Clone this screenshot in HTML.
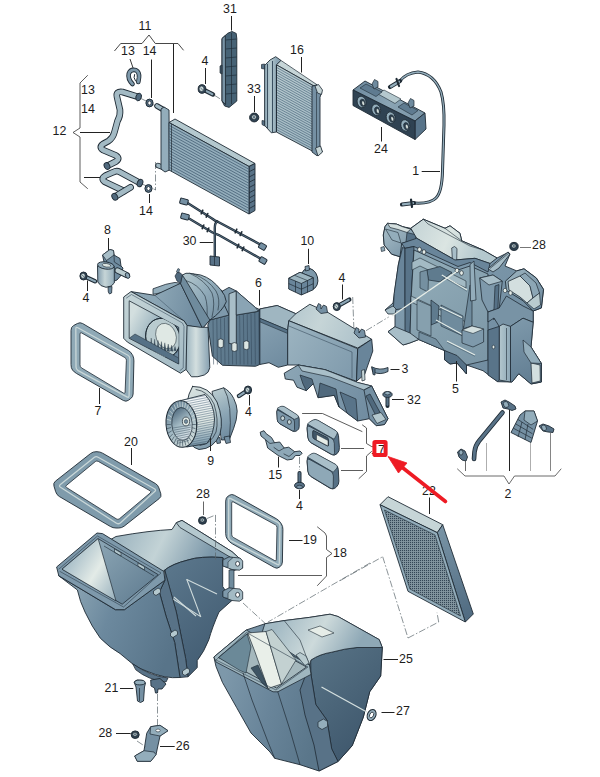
<!DOCTYPE html>
<html><head><meta charset="utf-8"><title>diagram</title>
<style>
html,body{margin:0;padding:0;background:#fff;}
body{width:600px;height:777px;overflow:hidden;}
svg{display:block;opacity:0.999;}
svg text{font-family:"Liberation Sans",sans-serif;fill:#1c1c1c;}
</style></head><body>
<svg width="600" height="777" viewBox="0 0 600 777">
<rect width="600" height="777" fill="#fff"/>
<text x="145.0" y="29.5" text-anchor="middle" font-size="12.4">11</text>
<polyline points="114.7,50.7 120.7,43.5 142.0,43.5 149.0,35.0 155.3,43.5 178.0,43.5 183.3,50.0" fill="none" stroke="#333" stroke-width="0.9" stroke-linejoin="round" stroke-linecap="round" />
<line x1="173.5" y1="44.0" x2="173.5" y2="113.0" stroke="#222" stroke-width="1.0" />
<text x="128.0" y="55.1" text-anchor="middle" font-size="12.4">13</text>
<text x="149.6" y="55.1" text-anchor="middle" font-size="12.4">14</text>
<line x1="130.0" y1="59.0" x2="133.3" y2="68.7" stroke="#222" stroke-width="0.9" />
<line x1="151.5" y1="59.5" x2="151.5" y2="98.0" stroke="#222" stroke-width="1.0" />
<text x="88.0" y="94.0" text-anchor="middle" font-size="12.4">13</text>
<text x="88.0" y="113.0" text-anchor="middle" font-size="12.4">14</text>
<text x="59.5" y="135.0" text-anchor="middle" font-size="12.4">12</text>
<polyline points="87.5,75.5 80.0,83.0 80.0,128.0 73.0,132.5 80.0,137.0 80.0,182.0 87.5,188.5" fill="none" stroke="#333" stroke-width="0.8" stroke-linejoin="round" stroke-linecap="round" />
<line x1="80.0" y1="132.5" x2="110.0" y2="132.5" stroke="#222" stroke-width="1.0" />
<line x1="84.0" y1="177.5" x2="101.0" y2="177.5" stroke="#222" stroke-width="1.0" />
<text x="146.0" y="215.0" text-anchor="middle" font-size="12.4">14</text>
<line x1="149.5" y1="194.0" x2="149.5" y2="203.0" stroke="#222" stroke-width="1.0" />
<line x1="155.5" y1="162.0" x2="155.5" y2="190.0" stroke="#5a656b" stroke-width="0.7" stroke-dasharray="7 2 1.5 2"/>
<line x1="140.0" y1="98.0" x2="160.0" y2="108.0" stroke="#5a656b" stroke-width="0.7" stroke-dasharray="7 2 1.5 2"/>
<line x1="142.0" y1="184.0" x2="156.0" y2="190.0" stroke="#5a656b" stroke-width="0.7" stroke-dasharray="7 2 1.5 2"/>
<path d="M132.5,84 Q127.5,79 128.8,73.5 Q130.5,68.8 136,70.2 Q139.5,72 139,77.5 L138.3,82" fill="none" stroke="#1f2b35" stroke-width="4.6" stroke-linejoin="round" stroke-linecap="round" />
<path d="M132.5,84 Q127.5,79 128.8,73.5 Q130.5,68.8 136,70.2 Q139.5,72 139,77.5 L138.3,82" fill="none" stroke="#7e99ab" stroke-width="2.8" stroke-linejoin="round" stroke-linecap="round" />
<path d="M135.5,81 Q133,77.5 134.5,74.5" fill="none" stroke="#1f2b35" stroke-width="1.0" stroke-linejoin="round" stroke-linecap="round" />
<path d="M138,96.8 L122.5,92 Q115.5,91 117,97 L120,110 Q120.5,116 117.5,121 L114.5,132 Q113,138 108.5,141 L103,144 Q98.5,147 103,150 L116,155.5 Q120.5,158.5 116,161.5 L107.5,165.8" fill="none" stroke="#1f2b35" stroke-width="6.6" stroke-linejoin="round" stroke-linecap="round" />
<path d="M138,96.8 L122.5,92 Q115.5,91 117,97 L120,110 Q120.5,116 117.5,121 L114.5,132 Q113,138 108.5,141 L103,144 Q98.5,147 103,150 L116,155.5 Q120.5,158.5 116,161.5 L107.5,165.8" fill="none" stroke="#a3bac4" stroke-width="4.8" stroke-linejoin="round" stroke-linecap="round" />
<ellipse cx="138.6" cy="97.0" rx="2.7" ry="3.9" fill="#50697d" stroke="#1f2b35" stroke-width="0.9" transform="rotate(18 138.6 97.0)"/>
<ellipse cx="107.0" cy="166.0" rx="2.7" ry="3.5" fill="#50697d" stroke="#1f2b35" stroke-width="0.9" transform="rotate(-30 107.0 166.0)"/>
<path d="M139.3,182.7 L119.5,171.8 Q116.5,170.3 113,172.3 L105.5,175.6 Q100.5,178.5 104.5,181.7 L124,191" fill="none" stroke="#1f2b35" stroke-width="6.6" stroke-linejoin="round" stroke-linecap="round" />
<path d="M139.3,182.7 L119.5,171.8 Q116.5,170.3 113,172.3 L105.5,175.6 Q100.5,178.5 104.5,181.7 L124,191" fill="none" stroke="#a3bac4" stroke-width="4.8" stroke-linejoin="round" stroke-linecap="round" />
<path d="M130.5,187.3 L115.5,196.3" fill="none" stroke="#1f2b35" stroke-width="6.8" stroke-linejoin="round" stroke-linecap="round" />
<path d="M130.5,187.3 L115.5,196.3" fill="none" stroke="#a3bac4" stroke-width="5.0" stroke-linejoin="round" stroke-linecap="round" />
<ellipse cx="140.0" cy="183.0" rx="2.7" ry="3.9" fill="#50697d" stroke="#1f2b35" stroke-width="0.9" transform="rotate(22 140.0 183.0)"/>
<ellipse cx="114.8" cy="196.8" rx="2.7" ry="3.6" fill="#50697d" stroke="#1f2b35" stroke-width="0.9" transform="rotate(-30 114.8 196.8)"/>
<ellipse cx="149.5" cy="103.0" rx="3.6" ry="3.9" fill="#587287" stroke="#1f2b35" stroke-width="1.0" transform="rotate(0 149.5 103.0)"/>
<ellipse cx="149.5" cy="103.0" rx="1.7" ry="2.0" fill="#fff" stroke="#1f2b35" stroke-width="0.8" transform="rotate(0 149.5 103.0)"/>
<ellipse cx="148.5" cy="188.5" rx="3.6" ry="3.9" fill="#587287" stroke="#1f2b35" stroke-width="1.0" transform="rotate(0 148.5 188.5)"/>
<ellipse cx="148.5" cy="188.5" rx="1.7" ry="2.0" fill="#fff" stroke="#1f2b35" stroke-width="0.8" transform="rotate(0 148.5 188.5)"/>
<path d="M157,106 L163,109.5" fill="none" stroke="#1f2b35" stroke-width="5.5" stroke-linejoin="round" stroke-linecap="round" />
<path d="M157,106 L163,109.5" fill="none" stroke="#a3bac4" stroke-width="3.7" stroke-linejoin="round" stroke-linecap="round" />
<path d="M158,165.5 L163,167.5" fill="none" stroke="#1f2b35" stroke-width="5.5" stroke-linejoin="round" stroke-linecap="round" />
<path d="M158,165.5 L163,167.5" fill="none" stroke="#a3bac4" stroke-width="3.7" stroke-linejoin="round" stroke-linecap="round" />
<polygon points="161.0,109.0 164.0,107.0 169.0,110.0 169.5,170.0 165.0,172.0 161.0,169.0" fill="#93adbb" stroke="#1f2b35" stroke-width="0.9" stroke-linejoin="round" />
<polygon points="169.0,122.5 175.0,119.0 255.0,163.5 249.0,166.5" fill="#b4c8ce" stroke="#1f2b35" stroke-width="0.9" stroke-linejoin="round" />
<polygon points="249.0,166.5 255.0,163.5 255.0,210.5 249.0,214.0" fill="#587287" stroke="#1f2b35" stroke-width="0.9" stroke-linejoin="round" />
<polygon points="169.0,122.5 249.0,166.5 249.0,214.0 169.0,170.0" fill="#93adbb" stroke="#1f2b35" stroke-width="0.9" stroke-linejoin="round" />
<line x1="169.0" y1="125.3" x2="249.0" y2="169.3" stroke="#4a647a" stroke-width="0.85" />
<line x1="169.0" y1="128.1" x2="249.0" y2="172.1" stroke="#4a647a" stroke-width="0.85" />
<line x1="169.0" y1="130.9" x2="249.0" y2="174.9" stroke="#4a647a" stroke-width="0.85" />
<line x1="169.0" y1="133.7" x2="249.0" y2="177.7" stroke="#4a647a" stroke-width="0.85" />
<line x1="169.0" y1="136.5" x2="249.0" y2="180.5" stroke="#4a647a" stroke-width="0.85" />
<line x1="169.0" y1="139.3" x2="249.0" y2="183.3" stroke="#4a647a" stroke-width="0.85" />
<line x1="169.0" y1="142.1" x2="249.0" y2="186.1" stroke="#4a647a" stroke-width="0.85" />
<line x1="169.0" y1="144.9" x2="249.0" y2="188.9" stroke="#4a647a" stroke-width="0.85" />
<line x1="169.0" y1="147.6" x2="249.0" y2="191.6" stroke="#4a647a" stroke-width="0.85" />
<line x1="169.0" y1="150.4" x2="249.0" y2="194.4" stroke="#4a647a" stroke-width="0.85" />
<line x1="169.0" y1="153.2" x2="249.0" y2="197.2" stroke="#4a647a" stroke-width="0.85" />
<line x1="169.0" y1="156.0" x2="249.0" y2="200.0" stroke="#4a647a" stroke-width="0.85" />
<line x1="169.0" y1="158.8" x2="249.0" y2="202.8" stroke="#4a647a" stroke-width="0.85" />
<line x1="169.0" y1="161.6" x2="249.0" y2="205.6" stroke="#4a647a" stroke-width="0.85" />
<line x1="169.0" y1="164.4" x2="249.0" y2="208.4" stroke="#4a647a" stroke-width="0.85" />
<line x1="169.0" y1="167.2" x2="249.0" y2="211.2" stroke="#4a647a" stroke-width="0.85" />
<line x1="249.0" y1="171.8" x2="255.0" y2="168.7" stroke="#1f2b35" stroke-width="0.8" />
<line x1="249.0" y1="177.1" x2="255.0" y2="173.9" stroke="#1f2b35" stroke-width="0.8" />
<line x1="249.0" y1="182.3" x2="255.0" y2="179.2" stroke="#1f2b35" stroke-width="0.8" />
<line x1="249.0" y1="187.6" x2="255.0" y2="184.4" stroke="#1f2b35" stroke-width="0.8" />
<line x1="249.0" y1="192.9" x2="255.0" y2="189.6" stroke="#1f2b35" stroke-width="0.8" />
<line x1="249.0" y1="198.2" x2="255.0" y2="194.8" stroke="#1f2b35" stroke-width="0.8" />
<line x1="249.0" y1="203.4" x2="255.0" y2="200.1" stroke="#1f2b35" stroke-width="0.8" />
<line x1="249.0" y1="208.7" x2="255.0" y2="205.3" stroke="#1f2b35" stroke-width="0.8" />
<line x1="171.5" y1="124.0" x2="171.5" y2="171.5" stroke="#1f2b35" stroke-width="0.7" />
<text x="230.0" y="12.5" text-anchor="middle" font-size="12.4">31</text>
<line x1="231.5" y1="16.0" x2="231.5" y2="30.5" stroke="#222" stroke-width="1.0" />
<polygon points="222.0,38.5 227.8,33.2 232.0,31.5 236.2,33.4 236.8,38.5 236.8,101.0 229.1,107.4 224.6,106.0 222.0,101.0" fill="#466275" stroke="#1f2b35" stroke-width="0.9" stroke-linejoin="round" />
<polygon points="222.0,38.5 225.3,35.5 225.6,104.5 222.0,101.0" fill="#7893a5" stroke="#1f2b35" stroke-width="0.9" stroke-linejoin="round" />
<line x1="225.6" y1="40.0" x2="236.8" y2="39.0" stroke="#1f2f3c" stroke-width="0.7" />
<line x1="225.6" y1="49.0" x2="236.8" y2="48.0" stroke="#1f2f3c" stroke-width="0.7" />
<line x1="225.6" y1="58.0" x2="236.8" y2="57.0" stroke="#1f2f3c" stroke-width="0.7" />
<line x1="225.6" y1="67.0" x2="236.8" y2="66.0" stroke="#1f2f3c" stroke-width="0.7" />
<line x1="225.6" y1="76.0" x2="236.8" y2="75.0" stroke="#1f2f3c" stroke-width="0.7" />
<line x1="225.6" y1="85.0" x2="236.8" y2="84.0" stroke="#1f2f3c" stroke-width="0.7" />
<line x1="225.6" y1="94.0" x2="236.8" y2="93.0" stroke="#1f2f3c" stroke-width="0.7" />
<line x1="231.5" y1="33.0" x2="231.5" y2="104.0" stroke="#1f2b35" stroke-width="0.7" />
<polygon points="220.0,66.0 222.0,65.0 222.0,74.0 220.0,73.0" fill="#3e5466" stroke="#1f2b35" stroke-width="0.7" stroke-linejoin="round" />
<text x="205.0" y="65.0" text-anchor="middle" font-size="12.4">4</text>
<line x1="205.5" y1="68.0" x2="205.5" y2="84.0" stroke="#222" stroke-width="1.0" />
<path d="M202,89 L213,94.5" fill="none" stroke="#1f2b35" stroke-width="4.4" stroke-linejoin="round" stroke-linecap="round" />
<path d="M202,89 L213,94.5" fill="none" stroke="#8ca6b5" stroke-width="2.2" stroke-linejoin="round" stroke-linecap="round" stroke-dasharray="1.0 1.1"/>
<ellipse cx="202.0" cy="89.0" rx="3.8" ry="4.3" fill="#334758" stroke="#1f2b35" stroke-width="1.0" transform="rotate(0 202.0 89.0)"/>
<ellipse cx="201.5" cy="88.8" rx="2.4" ry="2.7" fill="#c9d7d8" stroke="#1f2b35" stroke-width="0.6" transform="rotate(0 201.5 88.8)"/>
<line x1="200.4" y1="87.8" x2="202.9" y2="90.2" stroke="#334758" stroke-width="0.7" />
<line x1="214.0" y1="95.0" x2="222.0" y2="100.0" stroke="#5a656b" stroke-width="0.7" stroke-dasharray="7 2 1.5 2"/>
<text x="254.0" y="92.5" text-anchor="middle" font-size="12.4">33</text>
<line x1="254.5" y1="96.0" x2="254.5" y2="112.0" stroke="#222" stroke-width="1.0" />
<ellipse cx="254.2" cy="117.5" rx="4.6" ry="4.4" fill="#2f4252" stroke="#1f2b35" stroke-width="1.0" transform="rotate(0 254.2 117.5)"/>
<ellipse cx="254.0" cy="117.1" rx="2.5" ry="2.3" fill="#c9d7d8" stroke="#1f2b35" stroke-width="0.7" transform="rotate(0 254.0 117.1)"/>
<ellipse cx="254.0" cy="117.1" rx="1.0" ry="0.9" fill="#567186" stroke="#1f2b35" stroke-width="0.3" transform="rotate(0 254.0 117.1)"/>
<text x="297.0" y="53.5" text-anchor="middle" font-size="12.4">16</text>
<line x1="301.5" y1="57.0" x2="301.5" y2="72.5" stroke="#222" stroke-width="1.0" />
<polygon points="276.4,64.8 280.9,60.4 317.1,84.8 314.2,86.2" fill="#c6d5d7" stroke="#1f2b35" stroke-width="0.7" stroke-linejoin="round" />
<defs><linearGradient id="g1" gradientUnits="userSpaceOnUse" x1="277" y1="70" x2="314" y2="150"><stop offset="0" stop-color="#b9cbcf"/><stop offset="1" stop-color="#9db5c0"/></linearGradient></defs>
<polygon points="276.4,64.8 314.2,86.2 314.2,152.0 276.4,132.0" fill="url(#g1)" stroke="#1f2b35" stroke-width="0.9" stroke-linejoin="round" />
<line x1="276.4" y1="67.3" x2="314.2" y2="88.6" stroke="#4f6a80" stroke-width="0.7" />
<line x1="276.4" y1="69.8" x2="314.2" y2="91.1" stroke="#4f6a80" stroke-width="0.7" />
<line x1="276.4" y1="72.3" x2="314.2" y2="93.5" stroke="#4f6a80" stroke-width="0.7" />
<line x1="276.4" y1="74.8" x2="314.2" y2="95.9" stroke="#4f6a80" stroke-width="0.7" />
<line x1="276.4" y1="77.2" x2="314.2" y2="98.4" stroke="#4f6a80" stroke-width="0.7" />
<line x1="276.4" y1="79.7" x2="314.2" y2="100.8" stroke="#4f6a80" stroke-width="0.7" />
<line x1="276.4" y1="82.2" x2="314.2" y2="103.3" stroke="#4f6a80" stroke-width="0.7" />
<line x1="276.4" y1="84.7" x2="314.2" y2="105.7" stroke="#4f6a80" stroke-width="0.7" />
<line x1="276.4" y1="87.2" x2="314.2" y2="108.1" stroke="#4f6a80" stroke-width="0.7" />
<line x1="276.4" y1="89.7" x2="314.2" y2="110.6" stroke="#4f6a80" stroke-width="0.7" />
<line x1="276.4" y1="92.2" x2="314.2" y2="113.0" stroke="#4f6a80" stroke-width="0.7" />
<line x1="276.4" y1="94.7" x2="314.2" y2="115.4" stroke="#4f6a80" stroke-width="0.7" />
<line x1="276.4" y1="97.2" x2="314.2" y2="117.9" stroke="#4f6a80" stroke-width="0.7" />
<line x1="276.4" y1="99.6" x2="314.2" y2="120.3" stroke="#4f6a80" stroke-width="0.7" />
<line x1="276.4" y1="102.1" x2="314.2" y2="122.8" stroke="#4f6a80" stroke-width="0.7" />
<line x1="276.4" y1="104.6" x2="314.2" y2="125.2" stroke="#4f6a80" stroke-width="0.7" />
<line x1="276.4" y1="107.1" x2="314.2" y2="127.6" stroke="#4f6a80" stroke-width="0.7" />
<line x1="276.4" y1="109.6" x2="314.2" y2="130.1" stroke="#4f6a80" stroke-width="0.7" />
<line x1="276.4" y1="112.1" x2="314.2" y2="132.5" stroke="#4f6a80" stroke-width="0.7" />
<line x1="276.4" y1="114.6" x2="314.2" y2="134.9" stroke="#4f6a80" stroke-width="0.7" />
<line x1="276.4" y1="117.1" x2="314.2" y2="137.4" stroke="#4f6a80" stroke-width="0.7" />
<line x1="276.4" y1="119.6" x2="314.2" y2="139.8" stroke="#4f6a80" stroke-width="0.7" />
<line x1="276.4" y1="122.0" x2="314.2" y2="142.3" stroke="#4f6a80" stroke-width="0.7" />
<line x1="276.4" y1="124.5" x2="314.2" y2="144.7" stroke="#4f6a80" stroke-width="0.7" />
<line x1="276.4" y1="127.0" x2="314.2" y2="147.1" stroke="#4f6a80" stroke-width="0.7" />
<line x1="276.4" y1="129.5" x2="314.2" y2="149.6" stroke="#4f6a80" stroke-width="0.7" />
<defs><linearGradient id="g2" gradientUnits="userSpaceOnUse" x1="264" y1="90" x2="277" y2="90"><stop offset="0" stop-color="#8ca6b5"/><stop offset="0.5" stop-color="#b4c8ce"/><stop offset="1" stop-color="#8ca6b5"/></linearGradient></defs>
<polygon points="264.6,65.5 270.0,60.0 275.7,56.7 280.9,60.4 276.4,64.8 276.4,132.0 271.3,132.8 264.6,125.4" fill="url(#g2)" stroke="#1f2b35" stroke-width="0.9" stroke-linejoin="round" />
<line x1="267.5" y1="64.0" x2="267.5" y2="128.0" stroke="#3a4f60" stroke-width="1.0" />
<line x1="272.5" y1="61.0" x2="272.5" y2="132.0" stroke="#3a4f60" stroke-width="1.0" />
<line x1="276.5" y1="64.8" x2="276.5" y2="132.0" stroke="#1f2b35" stroke-width="0.8" />
<polygon points="261.5,64.5 264.6,64.0 264.6,69.0 261.5,68.5" fill="#587287" stroke="#1f2b35" stroke-width="0.7" stroke-linejoin="round" />
<polygon points="262.0,120.5 264.6,121.0 264.6,126.0 262.0,124.5" fill="#587287" stroke="#1f2b35" stroke-width="0.7" stroke-linejoin="round" />
<polygon points="312.0,86.2 317.1,84.8 321.6,92.2 320.0,97.3 320.0,146.0 322.3,152.0 317.1,155.8 312.0,152.0" fill="#7590a3" stroke="#1f2b35" stroke-width="0.9" stroke-linejoin="round" />
<line x1="316.5" y1="92.0" x2="316.5" y2="150.0" stroke="#1f2b35" stroke-width="0.6" />
<polygon points="315.0,86.0 318.5,84.5 322.5,90.0 321.5,94.5 317.5,93.0" fill="#c6d5d7" stroke="#1f2b35" stroke-width="0.8" stroke-linejoin="round" />
<polygon points="315.5,148.0 320.5,146.0 322.5,152.0 318.0,156.0" fill="#c6d5d7" stroke="#1f2b35" stroke-width="0.8" stroke-linejoin="round" />
<defs><linearGradient id="g3" gradientUnits="userSpaceOnUse" x1="355" y1="85" x2="425" y2="118"><stop offset="0" stop-color="#6f8b9f"/><stop offset="0.5" stop-color="#8aa4b4"/><stop offset="1" stop-color="#7893a5"/></linearGradient></defs>
<polygon points="353.0,90.0 365.0,81.0 425.0,113.0 415.0,121.0" fill="url(#g3)" stroke="#1f2b35" stroke-width="0.9" stroke-linejoin="round" />
<polygon points="378.0,94.0 384.0,90.0 401.0,99.0 395.0,103.5" fill="#b4c8ce" stroke="#1f2b35" stroke-width="0.6" stroke-linejoin="round" />
<polygon points="360.0,88.0 366.0,84.0 382.0,92.0 376.0,96.5" fill="#5f7b90" stroke="#1f2b35" stroke-width="0.6" stroke-linejoin="round" />
<polygon points="398.0,107.0 404.0,103.0 418.0,110.5 412.0,115.0" fill="#5f7b90" stroke="#1f2b35" stroke-width="0.6" stroke-linejoin="round" />
<polygon points="415.0,121.0 425.0,113.0 426.0,129.0 415.0,139.5" fill="#58748a" stroke="#1f2b35" stroke-width="0.9" stroke-linejoin="round" />
<polygon points="353.0,90.0 415.0,121.0 415.0,139.5 353.0,105.5" fill="#2f4252" stroke="#1f2b35" stroke-width="0.9" stroke-linejoin="round" />
<ellipse cx="361.6" cy="102.0" rx="4.4" ry="5.8" fill="#93adbb" stroke="#1f2b35" stroke-width="0.8" transform="rotate(-15 361.6 102.0)"/>
<ellipse cx="362.6" cy="102.8" rx="2.6" ry="3.8" fill="#2c3e4c" stroke="#1f2b35" stroke-width="0.5" transform="rotate(-15 362.6 102.8)"/>
<ellipse cx="363.2" cy="103.2" rx="1.2" ry="2.2" fill="#dbe5e2" stroke="#1f2b35" stroke-width="0.3" transform="rotate(-15 363.2 103.2)"/>
<ellipse cx="376.2" cy="109.8" rx="4.4" ry="5.8" fill="#93adbb" stroke="#1f2b35" stroke-width="0.8" transform="rotate(-15 376.2 109.8)"/>
<ellipse cx="377.2" cy="110.6" rx="2.6" ry="3.8" fill="#2c3e4c" stroke="#1f2b35" stroke-width="0.5" transform="rotate(-15 377.2 110.6)"/>
<ellipse cx="377.8" cy="111.0" rx="1.2" ry="2.2" fill="#dbe5e2" stroke="#1f2b35" stroke-width="0.3" transform="rotate(-15 377.8 111.0)"/>
<ellipse cx="390.7" cy="117.6" rx="4.4" ry="5.8" fill="#93adbb" stroke="#1f2b35" stroke-width="0.8" transform="rotate(-15 390.7 117.6)"/>
<ellipse cx="391.7" cy="118.4" rx="2.6" ry="3.8" fill="#2c3e4c" stroke="#1f2b35" stroke-width="0.5" transform="rotate(-15 391.7 118.4)"/>
<ellipse cx="392.3" cy="118.8" rx="1.2" ry="2.2" fill="#dbe5e2" stroke="#1f2b35" stroke-width="0.3" transform="rotate(-15 392.3 118.8)"/>
<ellipse cx="405.3" cy="125.4" rx="4.4" ry="5.8" fill="#93adbb" stroke="#1f2b35" stroke-width="0.8" transform="rotate(-15 405.3 125.4)"/>
<ellipse cx="406.3" cy="126.2" rx="2.6" ry="3.8" fill="#2c3e4c" stroke="#1f2b35" stroke-width="0.5" transform="rotate(-15 406.3 126.2)"/>
<ellipse cx="406.9" cy="126.6" rx="1.2" ry="2.2" fill="#dbe5e2" stroke="#1f2b35" stroke-width="0.3" transform="rotate(-15 406.9 126.6)"/>
<polygon points="372.0,84.0 374.5,79.5 378.0,81.5 378.0,87.0 374.0,89.0" fill="#6f8b9f" stroke="#1f2b35" stroke-width="0.7" stroke-linejoin="round" />
<polygon points="408.0,103.0 410.5,98.5 414.0,100.5 414.0,106.0 410.0,108.0" fill="#6f8b9f" stroke="#1f2b35" stroke-width="0.7" stroke-linejoin="round" />
<text x="381.0" y="152.5" text-anchor="middle" font-size="12.4">24</text>
<line x1="381.5" y1="127.0" x2="381.5" y2="141.5" stroke="#222" stroke-width="1.0" />
<path d="M400,81 Q406,73 418,72 Q434,74 441,92 Q444.5,104 444,125 L442.5,171 Q442,192 436,198 Q430,204 414,203" fill="none" stroke="#1f2b35" stroke-width="3.0" stroke-linejoin="round" stroke-linecap="round" />
<path d="M400,81 Q406,73 418,72 Q434,74 441,92 Q444.5,104 444,125 L442.5,171 Q442,192 436,198 Q430,204 414,203" fill="none" stroke="#93adbb" stroke-width="1.3" stroke-linejoin="round" stroke-linecap="round" />
<path d="M390,87 L400,81" fill="none" stroke="#1f2b35" stroke-width="4.2" stroke-linejoin="round" stroke-linecap="round" />
<path d="M391,86.5 L399,81.7" fill="none" stroke="#93adbb" stroke-width="2.2" stroke-linejoin="round" stroke-linecap="round" />
<path d="M396.5,79 L399,86" fill="none" stroke="#1f2b35" stroke-width="2.2" stroke-linejoin="round" stroke-linecap="round" />
<path d="M402,204.5 L414,203" fill="none" stroke="#1f2b35" stroke-width="4.2" stroke-linejoin="round" stroke-linecap="round" />
<path d="M403,204.3 L413,203.2" fill="none" stroke="#93adbb" stroke-width="2.2" stroke-linejoin="round" stroke-linecap="round" />
<path d="M411,199.5 L412,207" fill="none" stroke="#1f2b35" stroke-width="2.2" stroke-linejoin="round" stroke-linecap="round" />
<text x="415.7" y="174.5" text-anchor="middle" font-size="12.4">1</text>
<line x1="421.7" y1="171.5" x2="440.0" y2="171.5" stroke="#222" stroke-width="1.0" />
<path d="M188,203.3 L212,218.5 Q215,221 218.3,222 L260.3,244.5" fill="none" stroke="#1f2b35" stroke-width="2.4" stroke-linejoin="round" stroke-linecap="round" />
<path d="M188,203.3 L212,218.5 Q215,221 218.3,222 L260.3,244.5" fill="none" stroke="#587287" stroke-width="0.9" stroke-linejoin="round" stroke-linecap="round" />
<path d="M189,218.5 L212.5,232.5 L218.3,234.8 L260.3,258.5" fill="none" stroke="#1f2b35" stroke-width="2.4" stroke-linejoin="round" stroke-linecap="round" />
<path d="M189,218.5 L212.5,232.5 L218.3,234.8 L260.3,258.5" fill="none" stroke="#587287" stroke-width="0.9" stroke-linejoin="round" stroke-linecap="round" />
<path d="M217,221.5 Q214.8,223 214.8,228 L214.8,257" fill="none" stroke="#1f2b35" stroke-width="2.4" stroke-linejoin="round" stroke-linecap="round" />
<path d="M217,221.5 Q214.8,223 214.8,228 L214.8,257" fill="none" stroke="#587287" stroke-width="0.9" stroke-linejoin="round" stroke-linecap="round" />
<rect x="180.0" y="198.8" width="8" height="5.5" rx="1" fill="#7590a3" stroke="#1f2b35" stroke-width="1" transform="rotate(15 184.0 201.5)"/>
<rect x="181.0" y="213.8" width="8" height="5.5" rx="1" fill="#7590a3" stroke="#1f2b35" stroke-width="1" transform="rotate(15 185.0 216.5)"/>
<rect x="259.0" y="243.8" width="7" height="5.5" rx="1" fill="#7590a3" stroke="#1f2b35" stroke-width="1" transform="rotate(30 262.5 246.5)"/>
<rect x="259.5" y="257.8" width="7" height="5.5" rx="1" fill="#7590a3" stroke="#1f2b35" stroke-width="1" transform="rotate(30 263.0 260.5)"/>
<polygon points="210.0,256.0 219.5,257.0 219.5,266.0 210.0,265.0" fill="#587287" stroke="#1f2b35" stroke-width="0.9" stroke-linejoin="round" />
<line x1="214.5" y1="257.0" x2="214.5" y2="265.5" stroke="#1f2b35" stroke-width="0.7" />
<path d="M201.2,213.8 L202.8,210.2" fill="none" stroke="#1f2b35" stroke-width="1.6" stroke-linejoin="round" stroke-linecap="round" />
<path d="M206.2,217.10000000000002 L207.8,213.5" fill="none" stroke="#1f2b35" stroke-width="1.6" stroke-linejoin="round" stroke-linecap="round" />
<path d="M235.2,232.8 L236.8,229.2" fill="none" stroke="#1f2b35" stroke-width="1.6" stroke-linejoin="round" stroke-linecap="round" />
<path d="M240.2,235.4 L241.8,231.79999999999998" fill="none" stroke="#1f2b35" stroke-width="1.6" stroke-linejoin="round" stroke-linecap="round" />
<path d="M202.2,228.60000000000002 L203.8,225.0" fill="none" stroke="#1f2b35" stroke-width="1.6" stroke-linejoin="round" stroke-linecap="round" />
<path d="M207.2,231.60000000000002 L208.8,228.0" fill="none" stroke="#1f2b35" stroke-width="1.6" stroke-linejoin="round" stroke-linecap="round" />
<path d="M237.2,247.8 L238.8,244.2" fill="none" stroke="#1f2b35" stroke-width="1.6" stroke-linejoin="round" stroke-linecap="round" />
<path d="M242.2,250.60000000000002 L243.8,247.0" fill="none" stroke="#1f2b35" stroke-width="1.6" stroke-linejoin="round" stroke-linecap="round" />
<text x="189.6" y="245.2" text-anchor="middle" font-size="12.4">30</text>
<line x1="199.7" y1="242.5" x2="213.2" y2="242.5" stroke="#222" stroke-width="1.0" />
<text x="107.4" y="233.9" text-anchor="middle" font-size="12.4">8</text>
<line x1="108.5" y1="238.0" x2="108.5" y2="250.0" stroke="#222" stroke-width="1.0" />
<polygon points="102.5,255.0 110.0,249.5 113.5,250.5 114.0,255.0 120.0,258.5 121.0,266.0 123.0,268.0 120.5,276.0 117.0,280.0 112.0,282.0 104.0,262.0" fill="#6f8b9f" stroke="#1f2b35" stroke-width="0.9" stroke-linejoin="round" />
<polygon points="102.5,255.0 110.0,249.5 113.5,250.5 114.0,255.0 106.5,260.5" fill="#a8bec8" stroke="#1f2b35" stroke-width="0.7" stroke-linejoin="round" />
<line x1="106.5" y1="260.5" x2="106.8" y2="266.0" stroke="#1f2b35" stroke-width="0.7" />
<polyline points="114.0,255.0 114.3,262.0 120.5,266.0" fill="none" stroke="#1f2b35" stroke-width="0.7" stroke-linejoin="round" stroke-linecap="round" />
<path d="M117.5,270.5 L127,275.2" fill="none" stroke="#1f2b35" stroke-width="6.0" stroke-linejoin="round" stroke-linecap="round" />
<path d="M117.5,270.5 L127,275.2" fill="none" stroke="#b9cbcf" stroke-width="4.2" stroke-linejoin="round" stroke-linecap="round" />
<ellipse cx="127.6" cy="275.5" rx="2.0" ry="3.0" fill="#8ca6b5" stroke="#1f2b35" stroke-width="0.8" transform="rotate(-25 127.6 275.5)"/>
<defs><linearGradient id="g4" gradientUnits="userSpaceOnUse" x1="97" y1="275" x2="114.5" y2="275"><stop offset="0" stop-color="#7e99ab"/><stop offset="0.45" stop-color="#c6d5d7"/><stop offset="1" stop-color="#93adbb"/></linearGradient></defs>
<path d="M97.5,266 L97.8,282 Q100,286.5 106,287.3 Q112,287 114.3,283 L114.3,267 Z" fill="url(#g4)" stroke="#1f2b35" stroke-width="0.9" stroke-linejoin="round" stroke-linecap="round" />
<ellipse cx="105.8" cy="265.5" rx="8.3" ry="3.6" fill="#8ca6b5" stroke="#1f2b35" stroke-width="0.9" transform="rotate(8 105.8 265.5)"/>
<ellipse cx="106.5" cy="265.3" rx="4.2" ry="1.8" fill="#dbe5e2" stroke="#1f2b35" stroke-width="0.6" transform="rotate(8 106.5 265.3)"/>
<polygon points="108.0,287.0 112.0,286.5 111.6,293.0 109.5,294.0 108.3,292.0" fill="#6f8b9f" stroke="#1f2b35" stroke-width="0.8" stroke-linejoin="round" />
<path d="M83.5,276 L95,281.3" fill="none" stroke="#1f2b35" stroke-width="4.4" stroke-linejoin="round" stroke-linecap="round" />
<path d="M83.5,276 L95,281.3" fill="none" stroke="#8ca6b5" stroke-width="2.2" stroke-linejoin="round" stroke-linecap="round" stroke-dasharray="1.0 1.1"/>
<ellipse cx="83.5" cy="276.0" rx="3.6" ry="4.0" fill="#334758" stroke="#1f2b35" stroke-width="1.0" transform="rotate(0 83.5 276.0)"/>
<ellipse cx="83.0" cy="275.8" rx="2.2" ry="2.6" fill="#c9d7d8" stroke="#1f2b35" stroke-width="0.6" transform="rotate(0 83.0 275.8)"/>
<line x1="81.9" y1="274.8" x2="84.4" y2="277.2" stroke="#334758" stroke-width="0.7" />
<text x="86.0" y="302.0" text-anchor="middle" font-size="12.4">4</text>
<line x1="87.5" y1="280.5" x2="87.5" y2="291.0" stroke="#222" stroke-width="1.0" />
<text x="307.3" y="245.0" text-anchor="middle" font-size="12.4">10</text>
<line x1="308.5" y1="248.8" x2="308.5" y2="264.0" stroke="#222" stroke-width="1.0" />
<ellipse cx="309.5" cy="279.0" rx="8.2" ry="10.8" fill="#7e99ab" stroke="#1f2b35" stroke-width="0.9" transform="rotate(-15 309.5 279.0)"/>
<polygon points="305.0,266.5 309.0,265.5 309.5,270.0 305.5,271.0" fill="#7e99ab" stroke="#1f2b35" stroke-width="0.8" stroke-linejoin="round" />
<polygon points="288.7,278.3 300.0,272.3 313.3,277.7 313.3,289.7 301.3,295.0 288.7,289.0" fill="#69859a" stroke="#1f2b35" stroke-width="0.9" stroke-linejoin="round" />
<polygon points="288.7,278.3 300.0,272.3 313.3,277.7 301.3,283.5" fill="#9db5c0" stroke="#1f2b35" stroke-width="0.8" stroke-linejoin="round" />
<line x1="301.5" y1="283.5" x2="301.5" y2="295.0" stroke="#1f2b35" stroke-width="0.8" />
<line x1="295.5" y1="281.0" x2="295.5" y2="292.0" stroke="#1f2b35" stroke-width="0.7" />
<line x1="288.7" y1="283.6" x2="301.3" y2="289.2" stroke="#1f2b35" stroke-width="0.7" />
<line x1="307.5" y1="280.8" x2="307.5" y2="292.4" stroke="#1f2b35" stroke-width="0.7" />
<line x1="301.3" y1="289.2" x2="313.3" y2="283.7" stroke="#1f2b35" stroke-width="0.7" />
<line x1="294.5" y1="275.3" x2="307.5" y2="280.6" stroke="#1f2b35" stroke-width="0.6" />
<text x="342.0" y="281.5" text-anchor="middle" font-size="12.4">4</text>
<line x1="342.5" y1="284.5" x2="342.5" y2="299.5" stroke="#222" stroke-width="1.0" />
<path d="M336.8,306.6 L349.3,299.6" fill="none" stroke="#1f2b35" stroke-width="4.4" stroke-linejoin="round" stroke-linecap="round" />
<path d="M336.8,306.6 L349.3,299.6" fill="none" stroke="#8ca6b5" stroke-width="2.2" stroke-linejoin="round" stroke-linecap="round" stroke-dasharray="1.0 1.1"/>
<ellipse cx="336.8" cy="306.6" rx="3.6" ry="4.0" fill="#334758" stroke="#1f2b35" stroke-width="1.0" transform="rotate(0 336.8 306.6)"/>
<ellipse cx="336.3" cy="306.4" rx="2.2" ry="2.6" fill="#c9d7d8" stroke="#1f2b35" stroke-width="0.6" transform="rotate(0 336.3 306.4)"/>
<line x1="335.2" y1="305.4" x2="337.7" y2="307.8" stroke="#334758" stroke-width="0.7" />
<line x1="352.7" y1="297.0" x2="354.0" y2="332.0" stroke="#5a656b" stroke-width="0.7" stroke-dasharray="7 2 1.5 2"/>
<line x1="366.0" y1="330.7" x2="388.7" y2="317.0" stroke="#5a656b" stroke-width="0.7" stroke-dasharray="7 2 1.5 2"/>
<text x="258.5" y="286.5" text-anchor="middle" font-size="12.4">6</text>
<line x1="259.5" y1="290.0" x2="259.5" y2="305.5" stroke="#222" stroke-width="1.0" />
<defs><linearGradient id="g5" gradientUnits="userSpaceOnUse" x1="260" y1="320" x2="290" y2="365"><stop offset="0" stop-color="#86a0b1"/><stop offset="1" stop-color="#6f8b9f"/></linearGradient></defs>
<polygon points="259.7,309.0 259.7,364.5 269.0,362.7 278.3,367.3 287.7,365.0 287.7,330.0" fill="url(#g5)" stroke="#1f2b35" stroke-width="0.9" stroke-linejoin="round" />
<defs><linearGradient id="g6" gradientUnits="userSpaceOnUse" x1="270" y1="300" x2="370" y2="345"><stop offset="0" stop-color="#a8bec8"/><stop offset="0.5" stop-color="#c6d5d7"/><stop offset="1" stop-color="#a8bec8"/></linearGradient></defs>
<polygon points="259.7,309.0 277.2,305.5 295.8,313.7 309.8,304.3 328.0,312.5 371.7,339.3 357.7,348.0 288.8,320.7 287.7,330.0 259.7,318.3" fill="url(#g6)" stroke="#1f2b35" stroke-width="0.9" stroke-linejoin="round" />
<polygon points="259.7,309.0 277.2,305.5 295.8,313.7 288.8,320.7 287.7,330.0 259.7,318.3" fill="#9fb6c1" stroke="#1f2b35" stroke-width="0.8" stroke-linejoin="round" />
<polygon points="259.7,318.3 287.7,330.0 287.7,333.5 259.7,321.8" fill="#567186" stroke="#1f2b35" stroke-width="0.6" stroke-linejoin="round" />
<defs><linearGradient id="g7" gradientUnits="userSpaceOnUse" x1="290" y1="330" x2="356" y2="375"><stop offset="0" stop-color="#9ab2bf"/><stop offset="1" stop-color="#7f9aac"/></linearGradient></defs>
<polygon points="288.8,320.7 357.7,348.7 356.5,381.3 325.0,369.7 298.2,365.0 287.7,365.0 287.7,330.0" fill="url(#g7)" stroke="#1f2b35" stroke-width="0.9" stroke-linejoin="round" />
<polyline points="288.8,326.0 352.0,352.0 352.0,378.0" fill="none" stroke="#3a4f60" stroke-width="0.6" stroke-linejoin="round" stroke-linecap="round" />
<polygon points="357.7,348.7 371.7,339.3 372.8,351.0 364.7,374.3 356.5,381.3" fill="#69859a" stroke="#1f2b35" stroke-width="0.9" stroke-linejoin="round" />
<polygon points="316.0,309.0 318.5,303.5 321.0,305.0 321.0,309.0 323.5,305.0 326.5,306.5 327.5,312.5 321.0,313.5" fill="#7590a3" stroke="#1f2b35" stroke-width="0.8" stroke-linejoin="round" />
<polygon points="354.0,333.0 356.0,327.5 359.0,329.0 359.0,333.0 361.5,329.0 364.5,330.5 365.5,337.0 359.0,338.0" fill="#7590a3" stroke="#1f2b35" stroke-width="0.8" stroke-linejoin="round" />
<defs><linearGradient id="g8" gradientUnits="userSpaceOnUse" x1="290" y1="370" x2="385" y2="420"><stop offset="0" stop-color="#8aa4b4"/><stop offset="1" stop-color="#6c889d"/></linearGradient></defs>
<polygon points="284.2,373.2 298.2,365.0 325.0,369.7 357.7,382.5 371.7,386.0 388.0,418.7 384.5,424.5 376.3,425.7 369.3,418.7 357.7,421.0 339.0,407.0 334.3,395.3 318.0,397.7 313.3,383.7 306.3,390.7 297.0,387.2 293.5,380.2 285.3,379.0" fill="url(#g8)" stroke="#1f2b35" stroke-width="0.9" stroke-linejoin="round" />
<polygon points="298.2,365.0 325.0,369.7 357.7,382.5 371.7,386.0 364.0,390.0 330.0,377.0 302.0,371.0" fill="#a9bfc9" stroke="#1f2b35" stroke-width="0.7" stroke-linejoin="round" />
<polygon points="300.0,375.0 312.0,379.0 313.3,383.7 306.3,390.7 303.0,384.0" fill="#50697d" stroke="#1f2b35" stroke-width="0.7" stroke-linejoin="round" />
<polygon points="320.0,383.0 336.0,389.0 339.0,407.0 334.3,395.3 318.0,397.7" fill="#50697d" stroke="#1f2b35" stroke-width="0.7" stroke-linejoin="round" />
<polygon points="340.0,392.0 356.0,399.0 357.7,421.0 347.0,413.0" fill="#597489" stroke="#1f2b35" stroke-width="0.7" stroke-linejoin="round" />
<polygon points="364.0,390.0 371.7,386.0 388.0,418.7 384.5,424.5 376.3,425.7 369.3,418.7" fill="#7590a3" stroke="#1f2b35" stroke-width="0.8" stroke-linejoin="round" />
<polygon points="366.0,396.0 370.0,394.0 383.0,418.0 378.0,420.0" fill="#50697d" stroke="#1f2b35" stroke-width="0.7" stroke-linejoin="round" />
<polygon points="372.0,415.0 381.0,412.5 386.0,419.5 377.0,423.5" fill="#b4c8ce" stroke="#1f2b35" stroke-width="0.7" stroke-linejoin="round" />
<polygon points="361.5,370.5 364.5,369.5 365.0,380.0 362.0,381.0" fill="#c6d5d7" stroke="#1f2b35" stroke-width="0.7" stroke-linejoin="round" />
<defs><linearGradient id="g9" gradientUnits="userSpaceOnUse" x1="208" y1="330" x2="268" y2="345"><stop offset="0" stop-color="#648093"/><stop offset="1" stop-color="#557085"/></linearGradient></defs>
<polygon points="209.8,320.0 229.0,315.0 258.3,311.3 259.7,309.0 259.7,364.5 255.5,366.3 222.5,365.3 212.4,356.2 207.8,325.0" fill="url(#g9)" stroke="#1f2b35" stroke-width="0.9" stroke-linejoin="round" />
<polygon points="220.8,289.8 222.5,291.0 229.0,293.8 229.0,315.0 209.8,320.0 222.0,308.0 226.3,301.7 224.5,295.3" fill="#7e99ab" stroke="#1f2b35" stroke-width="0.7" stroke-linejoin="round" />
<line x1="213.0" y1="319.5" x2="213.6" y2="364.5" stroke="#344859" stroke-width="0.55" />
<line x1="216.8" y1="318.9" x2="217.4" y2="364.5" stroke="#344859" stroke-width="0.55" />
<line x1="220.6" y1="318.3" x2="221.2" y2="364.5" stroke="#344859" stroke-width="0.55" />
<line x1="224.4" y1="317.7" x2="225.0" y2="364.5" stroke="#344859" stroke-width="0.55" />
<line x1="228.2" y1="317.1" x2="228.8" y2="364.5" stroke="#344859" stroke-width="0.55" />
<line x1="232.0" y1="316.5" x2="232.6" y2="364.5" stroke="#344859" stroke-width="0.55" />
<line x1="235.8" y1="315.9" x2="236.4" y2="364.5" stroke="#344859" stroke-width="0.55" />
<line x1="239.6" y1="315.3" x2="240.2" y2="364.5" stroke="#344859" stroke-width="0.55" />
<line x1="243.4" y1="314.7" x2="244.0" y2="364.5" stroke="#344859" stroke-width="0.55" />
<line x1="247.2" y1="314.1" x2="247.8" y2="364.5" stroke="#344859" stroke-width="0.55" />
<line x1="251.0" y1="313.5" x2="251.6" y2="364.5" stroke="#344859" stroke-width="0.55" />
<line x1="254.8" y1="312.9" x2="255.4" y2="364.5" stroke="#344859" stroke-width="0.55" />
<line x1="258.6" y1="312.3" x2="259.2" y2="364.5" stroke="#344859" stroke-width="0.55" />
<polygon points="222.5,291.0 229.0,287.4 236.3,291.0 255.5,307.6 259.2,309.4 258.3,311.3 236.3,315.0 229.0,315.0 222.0,300.0" fill="#7d98aa" stroke="#1f2b35" stroke-width="0.9" stroke-linejoin="round" />
<polygon points="229.0,293.8 236.3,291.0 236.3,345.0 229.0,343.3" fill="#a8bec8" stroke="#1f2b35" stroke-width="0.8" stroke-linejoin="round" />
<polygon points="236.3,291.0 255.5,307.6 258.3,311.3 236.3,315.0" fill="#8aa4b4" stroke="#1f2b35" stroke-width="0.7" stroke-linejoin="round" />
<polygon points="218.1,339.8 220.7,338.8 223.3,339.8 223.3,346.8 220.7,347.8 218.1,346.8" fill="#dbe5e2" stroke="#1f2b35" stroke-width="0.7" stroke-linejoin="round" />
<polygon points="231.8,343.5 234.4,342.5 237.0,343.5 237.0,350.5 234.4,351.5 231.8,350.5" fill="#dbe5e2" stroke="#1f2b35" stroke-width="0.7" stroke-linejoin="round" />
<polygon points="243.7,341.7 246.3,340.7 248.9,341.7 248.9,348.7 246.3,349.7 243.7,348.7" fill="#dbe5e2" stroke="#1f2b35" stroke-width="0.7" stroke-linejoin="round" />
<defs><linearGradient id="g10" gradientUnits="userSpaceOnUse" x1="185" y1="272" x2="226" y2="305"><stop offset="0" stop-color="#b4c8ce"/><stop offset="0.5" stop-color="#93adbb"/><stop offset="1" stop-color="#7893a5"/></linearGradient></defs>
<path d="M182.3,275 Q186,272.3 189.7,273.3 L200.7,275 Q207,277 211.7,280.6 Q217,285 220.8,289.8 L224.5,295.3 L226.3,301.7 Q222,312 209.8,320 L202.5,328.3 Z" fill="url(#g10)" stroke="#1f2b35" stroke-width="0.9" stroke-linejoin="round" stroke-linecap="round" />
<path d="M193,273.8 Q208,279 216,291 Q220.5,299 218,310" fill="none" stroke="#1f2b35" stroke-width="0.6" stroke-linejoin="round" stroke-linecap="round" />
<path d="M189.7,273.3 Q205,280 212,293 Q215.5,303 212,317" fill="none" stroke="#1f2b35" stroke-width="0.6" stroke-linejoin="round" stroke-linecap="round" />
<path d="M186,280.6 Q198,284 205,296 Q208.5,306 206.5,321" fill="none" stroke="#1f2b35" stroke-width="0.6" stroke-linejoin="round" stroke-linecap="round" />
<polygon points="153.0,294.3 153.0,288.8 165.8,284.3 175.0,282.4 180.5,283.3 170.0,291.0" fill="#93adbb" stroke="#1f2b35" stroke-width="0.8" stroke-linejoin="round" />
<defs><linearGradient id="g11" gradientUnits="userSpaceOnUse" x1="155" y1="300" x2="200" y2="310"><stop offset="0" stop-color="#8ca6b5"/><stop offset="1" stop-color="#6f8b9f"/></linearGradient></defs>
<polygon points="131.0,291.6 154.8,295.3 180.5,283.3 202.5,328.3 187.0,325.5 184.2,321.0" fill="url(#g11)" stroke="#1f2b35" stroke-width="0.9" stroke-linejoin="round" />
<polyline points="154.8,295.3 184.2,321.0" fill="none" stroke="#3a4f60" stroke-width="0.5" stroke-linejoin="round" stroke-linecap="round" />
<polygon points="180.5,283.3 182.3,275.0 186.0,280.6 209.8,320.0 202.5,328.3" fill="#6f8b9d" stroke="#1f2b35" stroke-width="0.8" stroke-linejoin="round" />
<polygon points="175.0,276.0 177.5,272.0 180.5,273.0 182.3,275.0 180.5,283.3 177.0,281.0" fill="#50697d" stroke="#1f2b35" stroke-width="0.7" stroke-linejoin="round" />
<path d="M176.5,271.5 l1.5,-3 l1.6,0.8 l-0.8,3.2 z" fill="#7590a3" stroke="#1f2b35" stroke-width="0.6" stroke-linejoin="round" stroke-linecap="round" />
<defs><linearGradient id="g12" gradientUnits="userSpaceOnUse" x1="186" y1="350" x2="211" y2="350"><stop offset="0" stop-color="#9db5c0"/><stop offset="0.4" stop-color="#d3dfdf"/><stop offset="1" stop-color="#7f9aac"/></linearGradient></defs>
<path d="M187,325.5 L200.7,327.3 L208,327.3 L209.8,367.7 Q209,373 204.3,375 Q198,377.5 191.5,376.8 L186,369.5 Z" fill="url(#g12)" stroke="#1f2b35" stroke-width="0.9" stroke-linejoin="round" stroke-linecap="round" />
<defs><linearGradient id="g13" gradientUnits="userSpaceOnUse" x1="125" y1="300" x2="186" y2="370"><stop offset="0" stop-color="#c3d3d6"/><stop offset="1" stop-color="#a3bac4"/></linearGradient></defs>
<polygon points="123.7,297.0 131.0,291.6 184.2,321.0 187.0,325.5 186.0,369.5 180.5,373.2 127.3,342.0 123.7,338.3" fill="url(#g13)" stroke="#1f2b35" stroke-width="0.9" stroke-linejoin="round" />
<defs><linearGradient id="g14" gradientUnits="userSpaceOnUse" x1="130" y1="320" x2="178" y2="345"><stop offset="0" stop-color="#d3dfdf"/><stop offset="0.45" stop-color="#9db5c0"/><stop offset="1" stop-color="#6c889d"/></linearGradient></defs>
<polygon points="129.2,300.8 178.7,327.3 178.7,364.0 129.2,338.3" fill="url(#g14)" stroke="#1f2b35" stroke-width="0.8" stroke-linejoin="round" />
<clipPath id="cfan"><polygon points="129.2,300.8 178.7,327.3 178.7,364 129.2,338.3"/></clipPath>
<g clip-path="url(#cfan)">
<ellipse cx="163.0" cy="338.0" rx="17.0" ry="20.0" fill="#b9cbcf" stroke="#1f2b35" stroke-width="0.8" transform="rotate(-20 163.0 338.0)"/>
<ellipse cx="166.0" cy="336.0" rx="10.0" ry="13.0" fill="#dfe8e4" stroke="#1f2b35" stroke-width="0.5" transform="rotate(-20 166.0 336.0)"/>
<polygon points="150.0,352.0 151.2,338.0 152.6,352.5" fill="#3e5466" stroke="#1f2b35" stroke-width="0.3" stroke-linejoin="round" />
<polygon points="153.4,351.8 154.6,339.2 156.0,352.3" fill="#3e5466" stroke="#1f2b35" stroke-width="0.3" stroke-linejoin="round" />
<polygon points="156.8,351.6 158.0,340.4 159.4,352.1" fill="#3e5466" stroke="#1f2b35" stroke-width="0.3" stroke-linejoin="round" />
<polygon points="160.2,351.4 161.4,341.6 162.8,351.9" fill="#3e5466" stroke="#1f2b35" stroke-width="0.3" stroke-linejoin="round" />
<polygon points="163.6,351.2 164.8,342.8 166.2,351.7" fill="#3e5466" stroke="#1f2b35" stroke-width="0.3" stroke-linejoin="round" />
<polygon points="167.0,351.0 168.2,344.0 169.6,351.5" fill="#3e5466" stroke="#1f2b35" stroke-width="0.3" stroke-linejoin="round" />
<polygon points="170.4,350.8 171.6,345.2 173.0,351.3" fill="#3e5466" stroke="#1f2b35" stroke-width="0.3" stroke-linejoin="round" />
<polygon points="173.8,350.6 175.0,346.4 176.4,351.1" fill="#3e5466" stroke="#1f2b35" stroke-width="0.3" stroke-linejoin="round" />
<polygon points="177.2,350.4 178.4,347.6 179.8,350.9" fill="#3e5466" stroke="#1f2b35" stroke-width="0.3" stroke-linejoin="round" />
<ellipse cx="163.0" cy="338.0" rx="17.0" ry="20.0" fill="none" stroke="#1f2b35" stroke-width="0.8" transform="rotate(-20 163.0 338.0)"/>
<polygon points="129.2,338.3 178.7,364.0 178.7,358.0 135.0,334.0" fill="#567186" stroke="#1f2b35" stroke-width="0.5" stroke-linejoin="round" />
</g>
<polyline points="126.5,298.0 131.5,294.5 182.5,323.0 184.0,326.5 183.2,368.0 180.0,370.5" fill="none" stroke="#3a4f60" stroke-width="0.6" stroke-linejoin="round" stroke-linecap="round" />
<path d="M71.0,330.0 Q71.0,327.0 73.6,325.5 L77.4,323.5 Q80.0,322.0 82.6,323.5 L128.4,350.5 Q131.0,352.0 132.3,354.7 L132.7,355.3 Q134.0,358.0 133.9,361.0 L133.1,394.0 Q133.0,397.0 130.6,398.7 L128.4,400.3 Q126.0,402.0 123.4,400.5 L76.6,373.5 Q74.0,372.0 72.5,370.0 L72.5,370.0 Q71.0,368.0 71.0,365.0 Z" fill="#8fa9b6" stroke="#1f2b35" stroke-width="0.9" stroke-linejoin="round" stroke-linecap="round" />
<path d="M75.8,328.9 Q75.8,326.5 77.9,327.7 L127.9,355.3 Q130.0,356.5 129.9,358.9 L129.1,395.6 Q129.0,398.0 126.9,396.9 L78.1,370.6 Q76.0,369.5 76.0,367.1 Z" fill="none" stroke="#c9d7d8" stroke-width="1.3" stroke-linejoin="round" stroke-linecap="round" />
<path d="M80.0,333.8 Q80.0,332.0 81.6,332.9 L124.9,357.6 Q126.5,358.5 126.4,360.3 L125.1,392.2 Q125.0,394.0 123.5,393.1 L81.5,367.9 Q80.0,367.0 80.0,365.2 Z" fill="#fff" stroke="#1f2b35" stroke-width="0.8" stroke-linejoin="round" stroke-linecap="round" />
<text x="98.0" y="415.1" text-anchor="middle" font-size="12.4">7</text>
<line x1="99.5" y1="388.0" x2="99.5" y2="404.0" stroke="#222" stroke-width="1.0" />
<defs><linearGradient id="g15" gradientUnits="userSpaceOnUse" x1="215" y1="390" x2="238" y2="435"><stop offset="0" stop-color="#b9cbcf"/><stop offset="0.5" stop-color="#8ca6b5"/><stop offset="1" stop-color="#6c889d"/></linearGradient></defs>
<path d="M212.4,391.3 L223.7,387.8 Q230,391 233.7,398.4 Q237,405 237.2,411.2 Q237,420 233.7,428.2 L229.4,439.5 L222,440 Z" fill="url(#g15)" stroke="#1f2b35" stroke-width="0.9" stroke-linejoin="round" stroke-linecap="round" />
<path d="M223.7,387.8 Q233,403 229.4,439.5" fill="none" stroke="#1f2b35" stroke-width="0.7" stroke-linejoin="round" stroke-linecap="round" />
<polygon points="224.0,437.0 229.5,436.0 230.5,442.5 226.0,443.5" fill="#7590a3" stroke="#1f2b35" stroke-width="0.8" stroke-linejoin="round" />
<polygon points="216.0,438.0 220.0,437.5 220.5,443.0 217.0,443.5" fill="#7590a3" stroke="#1f2b35" stroke-width="0.8" stroke-linejoin="round" />
<defs><linearGradient id="g16" gradientUnits="userSpaceOnUse" x1="195" y1="390" x2="222" y2="440"><stop offset="0" stop-color="#d5e0df"/><stop offset="0.5" stop-color="#b4c8ce"/><stop offset="1" stop-color="#7f9aac"/></linearGradient></defs>
<path d="M192.6,386.4 Q209,386 217,402 Q224,420 220,434 Q214,449 199,449.5 Q188,447 186,430 Q184,400 192.6,386.4 Z" fill="url(#g16)" stroke="#1f2b35" stroke-width="0.9" stroke-linejoin="round" stroke-linecap="round" />
<path d="M196,389.5 Q208,391 214,404 Q219,420 216,432 Q211,444 200,445.5" fill="none" stroke="#1f2b35" stroke-width="0.7" stroke-linejoin="round" stroke-linecap="round" />
<defs><linearGradient id="g17" gradientUnits="userSpaceOnUse" x1="190" y1="398" x2="196" y2="448"><stop offset="0" stop-color="#f6f9fb"/><stop offset="0.5" stop-color="#dde6e2"/><stop offset="0.85" stop-color="#93adbb"/><stop offset="1" stop-color="#627d90"/></linearGradient></defs>
<path d="M181,400.5 L205,394.5 Q214,404 214.5,419 Q214,434 207,443.5 L186.5,447 Q197,438 197,423 Q196,408 181,400.5 Z" fill="url(#g17)" stroke="#1f2b35" stroke-width="0.9" stroke-linejoin="round" stroke-linecap="round" />
<clipPath id="ccage"><path d="M181,400.5 L205,394.5 Q214,404 214.5,419 Q214,434 207,443.5 L186.5,447 Q197,438 197,423 Q196,408 181,400.5 Z"/></clipPath>
<g clip-path="url(#ccage)">
<line x1="180.0" y1="400.5" x2="216.0" y2="393.5" stroke="#4a6479" stroke-width="0.5" />
<line x1="180.0" y1="402.8" x2="216.0" y2="395.8" stroke="#4a6479" stroke-width="0.5" />
<line x1="180.0" y1="405.1" x2="216.0" y2="398.1" stroke="#4a6479" stroke-width="0.5" />
<line x1="180.0" y1="407.4" x2="216.0" y2="400.4" stroke="#4a6479" stroke-width="0.5" />
<line x1="180.0" y1="409.7" x2="216.0" y2="402.7" stroke="#4a6479" stroke-width="0.5" />
<line x1="180.0" y1="412.0" x2="216.0" y2="405.0" stroke="#4a6479" stroke-width="0.5" />
<line x1="180.0" y1="414.3" x2="216.0" y2="407.3" stroke="#4a6479" stroke-width="0.5" />
<line x1="180.0" y1="416.6" x2="216.0" y2="409.6" stroke="#4a6479" stroke-width="0.5" />
<line x1="180.0" y1="418.9" x2="216.0" y2="411.9" stroke="#4a6479" stroke-width="0.5" />
<line x1="180.0" y1="421.2" x2="216.0" y2="414.2" stroke="#4a6479" stroke-width="0.5" />
<line x1="180.0" y1="423.5" x2="216.0" y2="416.5" stroke="#4a6479" stroke-width="0.5" />
<line x1="180.0" y1="425.8" x2="216.0" y2="418.8" stroke="#4a6479" stroke-width="0.5" />
<line x1="180.0" y1="428.1" x2="216.0" y2="421.1" stroke="#4a6479" stroke-width="0.5" />
<line x1="180.0" y1="430.4" x2="216.0" y2="423.4" stroke="#4a6479" stroke-width="0.5" />
<line x1="180.0" y1="432.7" x2="216.0" y2="425.7" stroke="#4a6479" stroke-width="0.5" />
<line x1="180.0" y1="435.0" x2="216.0" y2="428.0" stroke="#4a6479" stroke-width="0.5" />
<line x1="180.0" y1="437.3" x2="216.0" y2="430.3" stroke="#4a6479" stroke-width="0.5" />
<line x1="180.0" y1="439.6" x2="216.0" y2="432.6" stroke="#4a6479" stroke-width="0.5" />
<line x1="180.0" y1="441.9" x2="216.0" y2="434.9" stroke="#4a6479" stroke-width="0.5" />
<line x1="180.0" y1="444.2" x2="216.0" y2="437.2" stroke="#4a6479" stroke-width="0.5" />
<line x1="180.0" y1="446.5" x2="216.0" y2="439.5" stroke="#4a6479" stroke-width="0.5" />
<line x1="180.0" y1="448.8" x2="216.0" y2="441.8" stroke="#4a6479" stroke-width="0.5" />
</g>
<defs><linearGradient id="g18" gradientUnits="userSpaceOnUse" x1="168" y1="405" x2="196" y2="445"><stop offset="0" stop-color="#627d90"/><stop offset="0.5" stop-color="#a3bac4"/><stop offset="1" stop-color="#dde6e2"/></linearGradient></defs>
<ellipse cx="181.3" cy="424.0" rx="15.3" ry="23.3" fill="url(#g18)" stroke="#1f2b35" stroke-width="1.0" transform="rotate(-4 181.3 424.0)"/>
<line x1="195.9" y1="424.5" x2="191.8" y2="424.5" stroke="#2c3e4c" stroke-width="0.6" />
<line x1="195.6" y1="428.7" x2="191.6" y2="427.5" stroke="#2c3e4c" stroke-width="0.6" />
<line x1="194.6" y1="433.2" x2="190.9" y2="430.8" stroke="#2c3e4c" stroke-width="0.6" />
<line x1="193.1" y1="437.3" x2="189.8" y2="433.9" stroke="#2c3e4c" stroke-width="0.6" />
<line x1="191.1" y1="440.8" x2="188.3" y2="436.5" stroke="#2c3e4c" stroke-width="0.6" />
<line x1="188.6" y1="443.6" x2="186.6" y2="438.5" stroke="#2c3e4c" stroke-width="0.6" />
<line x1="185.8" y1="445.5" x2="184.5" y2="440.0" stroke="#2c3e4c" stroke-width="0.6" />
<line x1="182.8" y1="446.5" x2="182.4" y2="440.7" stroke="#2c3e4c" stroke-width="0.6" />
<line x1="179.8" y1="446.5" x2="180.2" y2="440.7" stroke="#2c3e4c" stroke-width="0.6" />
<line x1="176.8" y1="445.5" x2="178.1" y2="440.0" stroke="#2c3e4c" stroke-width="0.6" />
<line x1="174.0" y1="443.6" x2="176.1" y2="438.5" stroke="#2c3e4c" stroke-width="0.6" />
<line x1="171.5" y1="440.8" x2="174.3" y2="436.5" stroke="#2c3e4c" stroke-width="0.6" />
<line x1="169.5" y1="437.3" x2="172.8" y2="433.9" stroke="#2c3e4c" stroke-width="0.6" />
<line x1="168.0" y1="433.2" x2="171.7" y2="430.8" stroke="#2c3e4c" stroke-width="0.6" />
<line x1="167.0" y1="428.7" x2="171.0" y2="427.5" stroke="#2c3e4c" stroke-width="0.6" />
<line x1="166.7" y1="424.5" x2="170.8" y2="424.5" stroke="#2c3e4c" stroke-width="0.6" />
<line x1="167.0" y1="419.3" x2="171.0" y2="420.5" stroke="#dfe8e4" stroke-width="0.6" />
<line x1="168.0" y1="414.8" x2="171.7" y2="417.2" stroke="#dfe8e4" stroke-width="0.6" />
<line x1="169.5" y1="410.7" x2="172.8" y2="414.1" stroke="#dfe8e4" stroke-width="0.6" />
<line x1="171.5" y1="407.2" x2="174.3" y2="411.5" stroke="#dfe8e4" stroke-width="0.6" />
<line x1="174.0" y1="404.4" x2="176.1" y2="409.5" stroke="#dfe8e4" stroke-width="0.6" />
<line x1="176.8" y1="402.5" x2="178.1" y2="408.0" stroke="#dfe8e4" stroke-width="0.6" />
<line x1="179.8" y1="401.5" x2="180.2" y2="407.3" stroke="#dfe8e4" stroke-width="0.6" />
<line x1="182.8" y1="401.5" x2="182.4" y2="407.3" stroke="#dfe8e4" stroke-width="0.6" />
<line x1="185.8" y1="402.5" x2="184.5" y2="408.0" stroke="#dfe8e4" stroke-width="0.6" />
<line x1="188.6" y1="404.4" x2="186.6" y2="409.5" stroke="#dfe8e4" stroke-width="0.6" />
<line x1="191.1" y1="407.2" x2="188.3" y2="411.5" stroke="#dfe8e4" stroke-width="0.6" />
<line x1="193.1" y1="410.7" x2="189.8" y2="414.1" stroke="#dfe8e4" stroke-width="0.6" />
<line x1="194.6" y1="414.8" x2="190.9" y2="417.2" stroke="#dfe8e4" stroke-width="0.6" />
<line x1="195.6" y1="419.3" x2="191.6" y2="420.5" stroke="#dfe8e4" stroke-width="0.6" />
<defs><linearGradient id="g19" gradientUnits="userSpaceOnUse" x1="172" y1="410" x2="192" y2="440"><stop offset="0" stop-color="#4a6479"/><stop offset="0.45" stop-color="#a3bac4"/><stop offset="1" stop-color="#eef3f7"/></linearGradient></defs>
<ellipse cx="182.0" cy="424.0" rx="10.2" ry="16.5" fill="url(#g19)" stroke="#1f2b35" stroke-width="0.7" transform="rotate(-4 182.0 424.0)"/>
<line x1="173.0" y1="428.0" x2="191.0" y2="425.0" stroke="#405667" stroke-width="0.5" />
<line x1="173.6" y1="430.2" x2="190.7" y2="427.2" stroke="#405667" stroke-width="0.5" />
<line x1="174.2" y1="432.4" x2="190.4" y2="429.4" stroke="#405667" stroke-width="0.5" />
<line x1="174.8" y1="434.6" x2="190.1" y2="431.6" stroke="#405667" stroke-width="0.5" />
<line x1="175.4" y1="436.8" x2="189.8" y2="433.8" stroke="#405667" stroke-width="0.5" />
<line x1="176.0" y1="439.0" x2="189.5" y2="436.0" stroke="#405667" stroke-width="0.5" />
<line x1="176.6" y1="441.2" x2="189.2" y2="438.2" stroke="#405667" stroke-width="0.5" />
<line x1="177.2" y1="443.4" x2="188.9" y2="440.4" stroke="#405667" stroke-width="0.5" />
<ellipse cx="186.0" cy="421.5" rx="3.6" ry="4.4" fill="#dfe8e4" stroke="#1f2b35" stroke-width="0.7" transform="rotate(0 186.0 421.5)"/>
<ellipse cx="186.0" cy="421.5" rx="1.6" ry="2.0" fill="#7590a3" stroke="#1f2b35" stroke-width="0.5" transform="rotate(0 186.0 421.5)"/>
<text x="210.6" y="465.2" text-anchor="middle" font-size="12.4">9</text>
<line x1="210.5" y1="438.0" x2="210.5" y2="451.0" stroke="#222" stroke-width="1.0" />
<path d="M248,390 L239,396" fill="none" stroke="#1f2b35" stroke-width="4.4" stroke-linejoin="round" stroke-linecap="round" />
<path d="M248,390 L239,396" fill="none" stroke="#8ca6b5" stroke-width="2.2" stroke-linejoin="round" stroke-linecap="round" stroke-dasharray="1.0 1.1"/>
<ellipse cx="248.0" cy="390.0" rx="3.6" ry="4.0" fill="#334758" stroke="#1f2b35" stroke-width="1.0" transform="rotate(0 248.0 390.0)"/>
<ellipse cx="247.5" cy="389.8" rx="2.2" ry="2.6" fill="#c9d7d8" stroke="#1f2b35" stroke-width="0.6" transform="rotate(0 247.5 389.8)"/>
<line x1="246.4" y1="388.8" x2="248.9" y2="391.2" stroke="#334758" stroke-width="0.7" />
<text x="248.4" y="416.0" text-anchor="middle" font-size="12.4">4</text>
<line x1="249.5" y1="395.0" x2="249.5" y2="405.5" stroke="#222" stroke-width="1.0" />
<path d="M276.8,411.5 Q276.7,409.0 278.9,407.9 L280.5,407.1 Q282.7,406.0 284.8,407.3 L297.1,415.2 Q299.2,416.5 299.2,419.0 L299.2,426.7 Q299.2,429.2 297.1,430.6 L296.8,430.8 Q294.7,432.2 292.5,431.0 L279.7,423.7 Q277.5,422.5 277.4,420.0 Z" fill="#5f7b90" stroke="#1f2b35" stroke-width="0.9" stroke-linejoin="round" stroke-linecap="round" />
<path d="M277.3,408.3 Q279,407 281,406.3 Q283,405.8 285,407 L297.5,415 Q299,416.2 298,418 L294.5,419.3 Z" fill="#a9bfc9" stroke="#1f2b35" stroke-width="0.6" stroke-linejoin="round" stroke-linecap="round" />
<path d="M276.8,412.0 Q276.7,409.5 278.9,410.7 L292.3,418.3 Q294.5,419.5 294.5,422.0 L294.5,429.5 Q294.5,432.0 292.3,430.8 L279.5,423.5 Q277.3,422.3 277.2,419.8 Z" fill="#7d98aa" stroke="#1f2b35" stroke-width="0.7" stroke-linejoin="round" stroke-linecap="round" />
<ellipse cx="282.7" cy="418.2" rx="2.0" ry="2.3" fill="#c6d5d7" stroke="#1f2b35" stroke-width="0.8" transform="rotate(0 282.7 418.2)"/>
<ellipse cx="289.3" cy="422.0" rx="2.0" ry="2.3" fill="#c6d5d7" stroke="#1f2b35" stroke-width="0.8" transform="rotate(0 289.3 422.0)"/>
<path d="M307.0,428.2 Q306.7,424.7 309.5,422.6 L312.2,420.8 Q315.0,418.7 318.0,420.5 L335.2,430.4 Q338.2,432.2 338.5,435.7 L339.4,447.5 Q339.7,451.0 337.2,453.5 L337.0,453.7 Q334.5,456.2 331.5,454.5 L311.2,442.9 Q308.2,441.2 307.9,437.7 Z" fill="#567186" stroke="#1f2b35" stroke-width="0.9" stroke-linejoin="round" stroke-linecap="round" />
<path d="M307.5,423.8 Q309,422 313,420 Q315.5,418.8 318,420.3 L336,430.8 Q338,432 337,434 L334.3,439 Z" fill="#a9bfc9" stroke="#1f2b35" stroke-width="0.6" stroke-linejoin="round" stroke-linecap="round" />
<path d="M307.2,428.5 Q306.9,425.0 310.0,426.7 L331.2,438.1 Q334.3,439.8 334.3,443.3 L334.5,452.5 Q334.5,456.0 331.5,454.3 L311.2,442.7 Q308.2,441.0 307.9,437.5 Z" fill="#8ea8b7" stroke="#1f2b35" stroke-width="0.7" stroke-linejoin="round" stroke-linecap="round" />
<path d="M312.7,431.5 Q312.7,430.0 314.0,430.7 L327.2,437.5 Q328.5,438.2 328.5,439.7 L328.5,445.0 Q328.5,446.5 327.2,445.8 L314.0,438.9 Q312.7,438.2 312.7,436.7 Z" fill="#405667" stroke="#1f2b35" stroke-width="0.8" stroke-linejoin="round" stroke-linecap="round" />
<polygon points="316.5,434.5 328.0,440.5 328.0,446.0 316.5,440.0" fill="#e6ede8" stroke="#1f2b35" stroke-width="0.5" stroke-linejoin="round" />
<path d="M307.0,461.2 Q306.7,457.7 309.5,455.6 L310.7,454.6 Q313.5,452.5 316.6,454.2 L335.1,464.3 Q338.2,466.0 338.3,469.5 L338.9,481.2 Q339.0,484.7 336.4,487.0 L335.6,487.7 Q333.0,490.0 330.0,488.2 L311.2,476.8 Q308.2,475.0 307.9,471.5 Z" fill="#567186" stroke="#1f2b35" stroke-width="0.9" stroke-linejoin="round" stroke-linecap="round" />
<path d="M307.5,456.8 Q309,455 312,453.5 Q314,452.5 316.5,454 L336,464.6 Q338,466 337,468 L333.4,472 Z" fill="#a9bfc9" stroke="#1f2b35" stroke-width="0.6" stroke-linejoin="round" stroke-linecap="round" />
<path d="M307.2,461.5 Q306.9,458.0 310.0,459.7 L330.3,470.9 Q333.4,472.6 333.4,476.1 L333.2,486.3 Q333.2,489.8 330.2,488.0 L311.2,476.6 Q308.2,474.8 307.9,471.3 Z" fill="#8ea8b7" stroke="#1f2b35" stroke-width="0.7" stroke-linejoin="round" stroke-linecap="round" />
<polyline points="302.5,413.5 322.5,413.5 362.0,431.5" fill="none" stroke="#333" stroke-width="0.8" stroke-linejoin="round" stroke-linecap="round" />
<polyline points="362.5,425.0 366.5,428.0 366.5,443.5 371.5,446.5" fill="none" stroke="#333" stroke-width="0.8" stroke-linejoin="round" stroke-linecap="round" />
<polyline points="371.5,451.5 366.5,456.0 366.5,471.5 359.0,478.5" fill="none" stroke="#333" stroke-width="0.8" stroke-linejoin="round" stroke-linecap="round" />
<line x1="341.0" y1="448.5" x2="364.0" y2="448.5" stroke="#333" stroke-width="0.8" />
<line x1="341.0" y1="470.5" x2="363.0" y2="470.5" stroke="#333" stroke-width="0.8" />
<polygon points="260.2,432.2 264.0,430.7 266.2,433.7 271.5,437.5 274.5,442.7 279.7,442.0 284.2,448.0 288.7,447.2 294.7,451.7 300.0,451.0 302.2,453.2 300.0,455.5 295.5,455.5 292.5,459.2 287.2,460.0 278.2,455.5 267.7,448.0 265.5,439.7 261.0,436.0" fill="#8ea8b7" stroke="#1f2b35" stroke-width="0.9" stroke-linejoin="round" />
<polyline points="265.5,439.7 270.0,443.5 274.5,442.7" fill="none" stroke="#1f2b35" stroke-width="0.7" stroke-linejoin="round" stroke-linecap="round" />
<polyline points="274.0,447.5 279.0,451.0 284.2,448.0" fill="none" stroke="#1f2b35" stroke-width="0.7" stroke-linejoin="round" stroke-linecap="round" />
<polyline points="284.0,454.0 289.0,456.5 294.7,451.7" fill="none" stroke="#1f2b35" stroke-width="0.7" stroke-linejoin="round" stroke-linecap="round" />
<text x="275.2" y="478.9" text-anchor="middle" font-size="12.4">15</text>
<line x1="278.5" y1="456.7" x2="278.5" y2="467.5" stroke="#222" stroke-width="1.0" />
<line x1="299.5" y1="457.0" x2="299.5" y2="470.0" stroke="#5a656b" stroke-width="0.7" stroke-dasharray="7 2 1.5 2"/>
<path d="M299.5,473 L299.5,485" fill="none" stroke="#1f2b35" stroke-width="4.0" stroke-linejoin="round" stroke-linecap="round" />
<path d="M299.5,473 L299.5,484" fill="none" stroke="#587287" stroke-width="2.2" stroke-linejoin="round" stroke-linecap="round" stroke-dasharray="1.2 1"/>
<ellipse cx="299.5" cy="485.5" rx="5.0" ry="3.2" fill="#587287" stroke="#1f2b35" stroke-width="1.0" transform="rotate(0 299.5 485.5)"/>
<ellipse cx="299.5" cy="487.0" rx="3.0" ry="1.8" fill="#7590a3" stroke="#1f2b35" stroke-width="0.7" transform="rotate(0 299.5 487.0)"/>
<text x="299.5" y="510.0" text-anchor="middle" font-size="12.4">4</text>
<line x1="299.5" y1="490.0" x2="299.5" y2="499.0" stroke="#222" stroke-width="1.0" />
<path d="M372,367 Q380,371 388,367.5 L388,371.5 Q380,375.5 373,372 Z" fill="#7590a3" stroke="#1f2b35" stroke-width="0.9" stroke-linejoin="round" stroke-linecap="round" />
<path d="M372,367 L373,374.5 L375,375 L375,369" fill="#587287" stroke="#1f2b35" stroke-width="0.8" stroke-linejoin="round" stroke-linecap="round" />
<text x="405.0" y="372.5" text-anchor="middle" font-size="12.4">3</text>
<line x1="390.5" y1="369.5" x2="399.5" y2="369.5" stroke="#222" stroke-width="1.0" />
<path d="M387.5,396 L387.5,406" fill="none" stroke="#1f2b35" stroke-width="4.0" stroke-linejoin="round" stroke-linecap="round" />
<path d="M387.5,397 L387.5,405.5" fill="none" stroke="#587287" stroke-width="2.2" stroke-linejoin="round" stroke-linecap="round" stroke-dasharray="1.2 1"/>
<ellipse cx="387.5" cy="394.5" rx="4.6" ry="2.8" fill="#587287" stroke="#1f2b35" stroke-width="1.0" transform="rotate(0 387.5 394.5)"/>
<ellipse cx="387.5" cy="393.2" rx="2.8" ry="1.7" fill="#93adbb" stroke="#1f2b35" stroke-width="0.7" transform="rotate(0 387.5 393.2)"/>
<text x="414.0" y="404.0" text-anchor="middle" font-size="12.4">32</text>
<line x1="392.0" y1="399.5" x2="404.0" y2="399.5" stroke="#222" stroke-width="1.0" />
<text x="377.9" y="453.5" text-anchor="middle" font-size="12.4">17</text>
<rect x="374.4" y="442" width="11.2" height="13" rx="0.8" fill="none" stroke="#ee1b24" stroke-width="4"/>
<text x="429.0" y="494.5" text-anchor="middle" font-size="12.4">22</text>
<line x1="429.5" y1="497.5" x2="429.5" y2="514.0" stroke="#222" stroke-width="1.0" />
<path d="M403,468 L445.5,501.5" stroke="#ee1b24" stroke-width="3.6" stroke-linecap="round" fill="none"/>
<polygon points="388,456.5 407,463 398.5,473" fill="#ee1b24" stroke="#ee1b24" stroke-width="0.8" stroke-linejoin="round"/>
<defs><linearGradient id="g20" gradientUnits="userSpaceOnUse" x1="400" y1="250" x2="540" y2="380"><stop offset="0" stop-color="#839eaf"/><stop offset="1" stop-color="#6c889d"/></linearGradient></defs>
<polygon points="385.0,226.7 387.5,223.3 396.7,224.2 402.5,226.7 410.8,228.3 423.3,219.2 445.0,228.3 450.0,225.8 460.0,233.3 461.7,240.8 483.0,250.0 497.0,258.0 508.5,252.3 510.0,254.0 505.0,266.0 516.7,270.9 524.0,268.8 536.3,278.0 543.5,289.4 541.4,307.9 533.2,311.0 533.2,322.3 531.0,347.0 541.4,363.5 541.4,382.0 531.0,384.0 518.8,373.7 512.0,382.0 497.7,381.7 483.0,370.7 466.5,365.0 466.5,374.0 457.0,363.0 450.0,364.0 444.5,359.7 444.5,350.5 418.8,339.5 409.7,343.0 403.0,345.0 388.0,331.7 395.0,326.7 395.0,311.7 385.0,310.0 393.0,303.0 398.3,265.0 400.0,256.7 391.7,254.2 384.2,245.0 383.3,235.0" fill="url(#g20)" stroke="#1f2b35" stroke-width="0.9" stroke-linejoin="round" />
<defs><linearGradient id="g21" gradientUnits="userSpaceOnUse" x1="385" y1="225" x2="410" y2="255"><stop offset="0" stop-color="#a8bec8"/><stop offset="1" stop-color="#7893a5"/></linearGradient></defs>
<polygon points="385.0,226.7 387.5,223.3 396.7,224.2 402.5,226.7 410.8,229.2 416.7,235.0 415.0,240.8 405.0,242.5 401.7,243.3 400.0,256.7 391.7,254.2 384.2,245.0 383.3,235.0" fill="url(#g21)" stroke="#1f2b35" stroke-width="0.9" stroke-linejoin="round" />
<polygon points="387.5,223.3 396.7,224.2 402.5,226.7 410.8,229.2 407.0,232.5 398.0,229.5 390.0,227.5" fill="#d5e0df" stroke="#1f2b35" stroke-width="0.7" stroke-linejoin="round" />
<polygon points="385.5,229.0 398.0,232.5 401.0,243.0 392.0,240.0" fill="#93adbb" stroke="#1f2b35" stroke-width="0.6" stroke-linejoin="round" />
<polygon points="407.0,232.5 416.7,235.0 415.0,240.8 406.0,242.0" fill="#567186" stroke="#1f2b35" stroke-width="0.7" stroke-linejoin="round" />
<polygon points="380.8,247.5 384.0,246.5 385.0,250.5 381.5,251.5" fill="#93adbb" stroke="#1f2b35" stroke-width="0.7" stroke-linejoin="round" />
<defs><linearGradient id="g22" gradientUnits="userSpaceOnUse" x1="415" y1="225" x2="480" y2="255"><stop offset="0" stop-color="#c6d5d7"/><stop offset="0.5" stop-color="#dbe5e2"/><stop offset="1" stop-color="#b4c8ce"/></linearGradient></defs>
<polygon points="410.8,228.3 423.3,219.2 445.0,228.3 450.0,225.8 460.0,233.3 461.7,240.8 483.0,250.0 497.0,258.0 490.0,263.5 475.0,258.3 455.0,260.0 416.7,238.3" fill="url(#g22)" stroke="#1f2b35" stroke-width="0.9" stroke-linejoin="round" />
<polyline points="423.3,219.2 428.0,224.0 470.0,246.0 483.0,250.0" fill="none" stroke="#1f2b35" stroke-width="0.6" stroke-linejoin="round" stroke-linecap="round" />
<polyline points="445.0,228.3 461.7,240.8" fill="none" stroke="#1f2b35" stroke-width="0.6" stroke-linejoin="round" stroke-linecap="round" />
<polygon points="451.7,248.0 454.5,246.5 457.0,248.5 456.7,260.0 452.5,261.0" fill="#a8bec8" stroke="#1f2b35" stroke-width="0.7" stroke-linejoin="round" />
<polygon points="401.7,243.3 416.7,238.3 455.0,260.0 475.0,258.3 490.0,263.5 488.0,272.0 470.0,262.5 458.0,266.5 414.0,246.5 405.0,248.3" fill="#69859a" stroke="#1f2b35" stroke-width="0.8" stroke-linejoin="round" />
<polygon points="402.5,247.5 405.0,248.3 405.0,308.3 393.3,310.0 394.2,293.3 398.3,265.0" fill="#69859a" stroke="#1f2b35" stroke-width="0.8" stroke-linejoin="round" />
<polygon points="405.0,248.3 414.0,246.5 411.0,300.0 410.0,340.0 405.0,335.0" fill="#597489" stroke="#1f2b35" stroke-width="0.8" stroke-linejoin="round" />
<defs><linearGradient id="g23" gradientUnits="userSpaceOnUse" x1="412" y1="255" x2="488" y2="360"><stop offset="0" stop-color="#93adb9"/><stop offset="1" stop-color="#7b96a6"/></linearGradient></defs>
<polygon points="414.0,250.0 458.0,270.0 470.0,266.0 488.0,274.0 488.0,360.0 466.5,365.0 444.5,350.5 418.8,339.5 410.0,336.0 411.0,300.0" fill="url(#g23)" stroke="#1f2b35" stroke-width="0.8" stroke-linejoin="round" />
<polygon points="412.0,262.0 420.0,258.0 466.0,281.0 466.0,288.0 420.0,266.0 412.0,270.0" fill="#a3bac4" stroke="#1f2b35" stroke-width="0.6" stroke-linejoin="round" />
<polygon points="411.0,296.0 466.0,322.0 466.0,328.0 411.0,302.0" fill="#a3bac4" stroke="#1f2b35" stroke-width="0.6" stroke-linejoin="round" />
<polygon points="426.8,270.0 440.0,266.5 452.0,272.5 440.0,281.8 428.4,280.0" fill="#5f7b8e" stroke="#1f2b35" stroke-width="0.7" stroke-linejoin="round" />
<polygon points="420.0,272.0 427.0,270.0 428.4,280.0 428.0,292.0 420.0,288.0" fill="#7590a1" stroke="#1f2b35" stroke-width="0.6" stroke-linejoin="round" />
<polygon points="431.0,300.0 439.0,306.0 438.0,322.0 431.0,325.0" fill="#5f7b8e" stroke="#1f2b35" stroke-width="0.7" stroke-linejoin="round" />
<polygon points="417.0,300.0 431.0,306.0 431.0,336.0 417.0,330.0" fill="#86a0ae" stroke="#1f2b35" stroke-width="0.6" stroke-linejoin="round" />
<polygon points="441.0,305.0 463.0,316.0 463.0,336.0 441.0,326.0" fill="#6f8b9d" stroke="#1f2b35" stroke-width="0.6" stroke-linejoin="round" />
<polygon points="419.0,332.0 436.0,339.0 444.5,350.5 418.8,339.5" fill="#7590a1" stroke="#1f2b35" stroke-width="0.6" stroke-linejoin="round" />
<line x1="441.8" y1="275.0" x2="467.0" y2="290.0" stroke="#e2eae5" stroke-width="1.3" />
<line x1="441.8" y1="276.3" x2="467.0" y2="291.3" stroke="#405667" stroke-width="0.5" />
<line x1="440.0" y1="307.0" x2="462.0" y2="317.5" stroke="#e2eae5" stroke-width="1.3" />
<line x1="440.0" y1="308.3" x2="462.0" y2="318.8" stroke="#405667" stroke-width="0.5" />
<line x1="436.0" y1="320.0" x2="467.0" y2="337.0" stroke="#e2eae5" stroke-width="1.3" />
<line x1="436.0" y1="321.3" x2="467.0" y2="338.3" stroke="#405667" stroke-width="0.5" />
<line x1="447.0" y1="341.0" x2="475.0" y2="355.0" stroke="#e2eae5" stroke-width="1.3" />
<line x1="447.0" y1="342.3" x2="475.0" y2="356.3" stroke="#405667" stroke-width="0.5" />
<polygon points="463.5,328.6 470.0,285.0 472.0,287.0 472.0,326.0" fill="#6f8b9d" stroke="#1f2b35" stroke-width="0.7" stroke-linejoin="round" />
<polygon points="470.0,264.5 474.0,261.0 476.0,300.0 470.5,301.0" fill="#93adbb" stroke="#1f2b35" stroke-width="0.7" stroke-linejoin="round" />
<polygon points="462.0,330.0 472.0,326.0 483.6,329.0 483.6,342.0 473.0,347.0 462.0,343.0" fill="#7e99ab" stroke="#1f2b35" stroke-width="0.7" stroke-linejoin="round" />
<polygon points="462.0,330.0 472.0,326.0 483.6,329.0 473.0,333.5" fill="#d3dfdf" stroke="#1f2b35" stroke-width="0.6" stroke-linejoin="round" />
<ellipse cx="419.5" cy="249.5" rx="1.9" ry="2.3" fill="#e6ede8" stroke="#1f2b35" stroke-width="0.7" transform="rotate(0 419.5 249.5)"/>
<ellipse cx="424.0" cy="252.0" rx="1.9" ry="2.3" fill="#e6ede8" stroke="#1f2b35" stroke-width="0.7" transform="rotate(0 424.0 252.0)"/>
<ellipse cx="457.0" cy="270.5" rx="1.9" ry="2.3" fill="#e6ede8" stroke="#1f2b35" stroke-width="0.7" transform="rotate(0 457.0 270.5)"/>
<ellipse cx="461.5" cy="273.0" rx="1.9" ry="2.3" fill="#e6ede8" stroke="#1f2b35" stroke-width="0.7" transform="rotate(0 461.5 273.0)"/>
<polygon points="488.0,268.8 508.0,252.0 510.0,254.0 499.0,268.0 493.0,272.0" fill="#a8bec8" stroke="#1f2b35" stroke-width="0.8" stroke-linejoin="round" />
<line x1="490.0" y1="268.5" x2="509.0" y2="253.0" stroke="#1f2b35" stroke-width="0.6" />
<polygon points="479.7,278.0 493.0,275.0 502.3,281.2 499.2,308.0 488.0,312.0 482.0,300.0" fill="#7e99ab" stroke="#1f2b35" stroke-width="0.8" stroke-linejoin="round" />
<polygon points="479.7,278.0 493.0,275.0 502.3,281.2 489.0,285.0" fill="#a8bec8" stroke="#1f2b35" stroke-width="0.7" stroke-linejoin="round" />
<polygon points="495.0,286.0 499.0,284.5 497.5,318.0 493.5,319.5" fill="#567186" stroke="#1f2b35" stroke-width="0.7" stroke-linejoin="round" />
<defs><linearGradient id="g24" gradientUnits="userSpaceOnUse" x1="505" y1="270" x2="545" y2="310"><stop offset="0" stop-color="#9db5c0"/><stop offset="1" stop-color="#6c889d"/></linearGradient></defs>
<polygon points="516.7,270.9 524.0,268.8 536.3,278.0 543.5,289.4 541.4,307.9 533.2,311.0 523.0,300.7 506.4,290.4 505.4,281.2" fill="url(#g24)" stroke="#1f2b35" stroke-width="0.9" stroke-linejoin="round" />
<polygon points="508.0,281.5 520.0,276.0 530.0,286.0 533.0,298.0 527.0,303.0 520.0,297.0 509.0,290.0" fill="#d3dfdf" stroke="#1f2b35" stroke-width="0.8" stroke-linejoin="round" />
<polygon points="520.0,276.0 525.0,273.0 536.0,283.0 539.5,293.0 533.0,298.0 530.0,286.0" fill="#8ca6b5" stroke="#1f2b35" stroke-width="0.7" stroke-linejoin="round" />
<polygon points="527.0,303.0 533.0,298.0 539.5,293.0 540.5,305.0 534.0,309.0" fill="#b9cbcf" stroke="#1f2b35" stroke-width="0.7" stroke-linejoin="round" />
<ellipse cx="510.5" cy="293.0" rx="1.8" ry="2.2" fill="#e6ede8" stroke="#1f2b35" stroke-width="0.6" transform="rotate(0 510.5 293.0)"/>
<ellipse cx="505.0" cy="290.5" rx="1.8" ry="2.2" fill="#e6ede8" stroke="#1f2b35" stroke-width="0.6" transform="rotate(0 505.0 290.5)"/>
<polygon points="488.0,312.0 499.2,308.0 506.4,296.0 523.0,306.0 533.2,311.0 533.2,322.3 523.0,318.2 510.5,326.4 499.2,326.4 494.0,318.0 488.0,322.0" fill="#7893a5" stroke="#1f2b35" stroke-width="0.8" stroke-linejoin="round" />
<defs><linearGradient id="g25" gradientUnits="userSpaceOnUse" x1="499" y1="330" x2="511" y2="330"><stop offset="0" stop-color="#b4c8ce"/><stop offset="1" stop-color="#8ca6b5"/></linearGradient></defs>
<polygon points="499.2,326.4 503.0,324.0 510.5,326.4 510.5,382.0 499.2,380.0" fill="url(#g25)" stroke="#1f2b35" stroke-width="0.8" stroke-linejoin="round" />
<line x1="506.5" y1="328.0" x2="506.5" y2="380.0" stroke="#1f2b35" stroke-width="0.6" />
<polygon points="488.0,330.0 499.2,326.4 499.2,380.0 497.7,381.7 488.0,375.0" fill="#597489" stroke="#1f2b35" stroke-width="0.8" stroke-linejoin="round" />
<ellipse cx="493.5" cy="347.0" rx="1.4" ry="1.8" fill="#e6ede8" stroke="#1f2b35" stroke-width="0.6" transform="rotate(0 493.5 347.0)"/>
<defs><linearGradient id="g26" gradientUnits="userSpaceOnUse" x1="512" y1="320" x2="542" y2="385"><stop offset="0" stop-color="#7e99ab"/><stop offset="1" stop-color="#5f7b90"/></linearGradient></defs>
<polygon points="510.5,326.4 523.0,318.2 533.2,322.3 531.0,347.0 541.4,363.5 541.4,382.0 531.0,384.0 518.8,373.7 512.0,382.0 510.5,382.0" fill="url(#g26)" stroke="#1f2b35" stroke-width="0.8" stroke-linejoin="round" />
<polygon points="531.0,363.0 540.0,365.0 540.3,381.0 532.0,383.0" fill="#d3dfdf" stroke="#1f2b35" stroke-width="0.7" stroke-linejoin="round" />
<polygon points="523.0,340.0 531.0,347.0 541.4,363.5 531.0,363.0 524.0,352.0" fill="#93adbb" stroke="#1f2b35" stroke-width="0.7" stroke-linejoin="round" />
<polygon points="388.0,331.7 395.0,326.7 410.0,333.0 418.8,339.5 409.7,343.0 403.0,345.0" fill="#a8bec8" stroke="#1f2b35" stroke-width="0.8" stroke-linejoin="round" />
<polygon points="385.0,310.0 393.0,306.0 396.0,309.0 395.0,314.0 388.0,314.0" fill="#a8bec8" stroke="#1f2b35" stroke-width="0.8" stroke-linejoin="round" />
<polygon points="444.5,350.5 457.0,355.5 466.5,365.0 466.5,374.0 457.0,363.0 450.0,364.0 444.5,359.7" fill="#567186" stroke="#1f2b35" stroke-width="0.8" stroke-linejoin="round" />
<text x="455.5" y="393.0" text-anchor="middle" font-size="12.4">5</text>
<line x1="456.5" y1="361.0" x2="456.5" y2="381.5" stroke="#222" stroke-width="1.0" />
<line x1="392.0" y1="316.0" x2="456.0" y2="272.0" stroke="#e8eee8" stroke-width="1.4" />
<ellipse cx="514.0" cy="246.4" rx="4.2" ry="4.0" fill="#2f4252" stroke="#1f2b35" stroke-width="1.0" transform="rotate(0 514.0 246.4)"/>
<ellipse cx="513.8" cy="246.0" rx="2.3" ry="2.1" fill="#c9d7d8" stroke="#1f2b35" stroke-width="0.7" transform="rotate(0 513.8 246.0)"/>
<ellipse cx="513.8" cy="246.0" rx="0.9" ry="0.8" fill="#567186" stroke="#1f2b35" stroke-width="0.3" transform="rotate(0 513.8 246.0)"/>
<text x="539.0" y="248.9" text-anchor="middle" font-size="12.4">28</text>
<line x1="520.0" y1="247.5" x2="531.0" y2="247.5" stroke="#777" stroke-width="1.0" />
<path d="M502.5,412.5 L479,441 Q475,446 474.5,452 L474,459" fill="none" stroke="#1f2b35" stroke-width="4.6" stroke-linejoin="round" stroke-linecap="round" />
<path d="M502.5,412.5 L479,441 Q475,446 474.5,452 L474,459" fill="none" stroke="#587287" stroke-width="2.8" stroke-linejoin="round" stroke-linecap="round" />
<polygon points="501.0,402.0 505.0,400.0 509.0,402.0 515.0,406.0 516.0,409.0 512.0,410.5 508.0,409.0 503.0,408.0" fill="#587287" stroke="#1f2b35" stroke-width="0.9" stroke-linejoin="round" />
<ellipse cx="506.0" cy="404.5" rx="2.4" ry="3.2" fill="#93adbb" stroke="#1f2b35" stroke-width="0.7" transform="rotate(-30 506.0 404.5)"/>
<polygon points="520.0,415.0 525.0,411.0 534.0,411.0 537.5,421.0 531.0,442.5 511.0,432.5" fill="#7590a3" stroke="#1f2b35" stroke-width="0.9" stroke-linejoin="round" />
<polygon points="525.0,411.0 534.0,411.0 537.5,421.0 531.0,425.0 524.0,420.0" fill="#93adbb" stroke="#1f2b35" stroke-width="0.7" stroke-linejoin="round" />
<line x1="517.8" y1="419.4" x2="533.2" y2="429.4" stroke="#1f2b35" stroke-width="0.7" />
<line x1="515.5" y1="423.8" x2="532.5" y2="433.8" stroke="#1f2b35" stroke-width="0.7" />
<line x1="513.2" y1="428.1" x2="531.8" y2="438.1" stroke="#1f2b35" stroke-width="0.7" />
<line x1="522.0" y1="422.0" x2="518.0" y2="437.0" stroke="#1f2b35" stroke-width="0.7" />
<line x1="528.0" y1="424.0" x2="525.0" y2="440.0" stroke="#1f2b35" stroke-width="0.7" />
<polygon points="539.0,426.0 543.0,424.0 549.0,426.0 554.0,429.0 553.0,432.5 548.0,432.0 543.0,431.0" fill="#587287" stroke="#1f2b35" stroke-width="0.9" stroke-linejoin="round" />
<ellipse cx="544.0" cy="427.8" rx="2.2" ry="3.0" fill="#93adbb" stroke="#1f2b35" stroke-width="0.7" transform="rotate(-30 544.0 427.8)"/>
<polygon points="457.5,452.0 461.0,449.0 465.0,451.0 467.5,457.0 466.0,461.0 462.0,460.0 459.0,457.0" fill="#587287" stroke="#1f2b35" stroke-width="0.9" stroke-linejoin="round" />
<ellipse cx="461.0" cy="452.5" rx="2.0" ry="2.6" fill="#93adbb" stroke="#1f2b35" stroke-width="0.7" transform="rotate(0 461.0 452.5)"/>
<line x1="465.5" y1="461.0" x2="465.5" y2="471.0" stroke="#444" stroke-width="0.8" />
<line x1="486.5" y1="443.0" x2="486.5" y2="471.0" stroke="#999" stroke-width="0.8" />
<line x1="509.5" y1="410.0" x2="509.5" y2="471.0" stroke="#222" stroke-width="1.0" />
<line x1="530.5" y1="443.0" x2="530.5" y2="471.0" stroke="#999" stroke-width="0.8" />
<line x1="550.5" y1="433.0" x2="550.5" y2="471.0" stroke="#666" stroke-width="0.8" />
<polyline points="457.5,469.0 465.0,476.0 504.0,476.0 509.0,484.0 514.5,476.0 555.0,476.0 561.0,469.0" fill="none" stroke="#444" stroke-width="0.8" stroke-linejoin="round" stroke-linecap="round" />
<text x="508.0" y="497.5" text-anchor="middle" font-size="12.4">2</text>
<text x="131.0" y="445.5" text-anchor="middle" font-size="12.4">20</text>
<line x1="131.5" y1="448.0" x2="131.5" y2="465.0" stroke="#222" stroke-width="1.0" />
<path d="M53.9,485.9 Q53.0,483.0 55.4,481.2 L90.6,453.5 Q93.0,451.7 96.0,451.7 L97.0,451.7 Q100.0,451.7 102.6,453.2 L155.4,483.5 Q158.0,485.0 158.9,487.9 L160.8,493.8 Q161.7,496.7 159.3,498.5 L124.1,526.2 Q121.7,528.0 118.7,528.0 L116.0,528.0 Q113.0,528.0 110.4,526.5 L59.3,496.5 Q56.7,495.0 55.8,492.1 Z" fill="#7f9bab" stroke="#1f2b35" stroke-width="0.9" stroke-linejoin="round" stroke-linecap="round" />
<path d="M60.5,487.3 Q58.5,486.0 60.4,484.5 L94.1,457.5 Q96.0,456.0 98.1,457.2 L154.4,488.8 Q156.5,490.0 154.7,491.6 L120.3,522.9 Q118.5,524.5 116.5,523.2 Z" fill="none" stroke="#c9d7d8" stroke-width="1.3" stroke-linejoin="round" stroke-linecap="round" />
<path d="M66.5,487.5 Q65.0,486.5 66.4,485.4 L95.3,461.6 Q96.7,460.5 98.3,461.4 L150.1,490.8 Q151.7,491.7 150.3,492.9 L119.4,518.8 Q118.0,520.0 116.5,519.0 Z" fill="#fff" stroke="#1f2b35" stroke-width="0.8" stroke-linejoin="round" stroke-linecap="round" />
<defs><linearGradient id="g27" gradientUnits="userSpaceOnUse" x1="120" y1="535" x2="200" y2="575"><stop offset="0" stop-color="#9fb6c1"/><stop offset="0.45" stop-color="#c3d3d6"/><stop offset="1" stop-color="#7b97a9"/></linearGradient></defs>
<path d="M108,541 L116,536.5 Q150,530.5 172,529.5 L176.3,522.7 L182,520.4 L232,551.7 L241,559.8 L242.4,568 L232,571 L222.7,557.5 Q200,556 188,560 Q172,564 164.8,570 L160,574 Z" fill="url(#g27)" stroke="#1f2b35" stroke-width="0.9" stroke-linejoin="round" stroke-linecap="round" />
<polygon points="176.3,522.7 182.0,520.4 232.0,551.7 241.0,559.8 242.4,568.0 236.0,568.0 230.0,557.0 180.0,527.5" fill="#b4c8ce" stroke="#1f2b35" stroke-width="0.8" stroke-linejoin="round" />
<defs><linearGradient id="g28" gradientUnits="userSpaceOnUse" x1="165" y1="570" x2="235" y2="640"><stop offset="0" stop-color="#5a768b"/><stop offset="1" stop-color="#435d73"/></linearGradient></defs>
<path d="M164.8,570 Q172,564 188,560 Q200,556 222.7,557.5 L222.7,586.5 L232,600.4 L219,612 Q212,628 208.8,639.8 Q204,652 197.2,660.6 L197.2,667.6 L188,676.8 L185.6,658.3 L176.3,612 Z" fill="url(#g28)" stroke="#1f2b35" stroke-width="0.9" stroke-linejoin="round" stroke-linecap="round" />
<polygon points="229.0,570.0 234.0,570.0 234.0,588.5 229.0,588.5" fill="#6f8b9d" stroke="#1f2b35" stroke-width="0.7" stroke-linejoin="round" />
<polygon points="223.0,560.0 229.0,557.0 240.0,558.0 242.7,561.0 242.7,568.0 239.5,570.2 232.0,569.5 223.0,566.0" fill="#a3bac4" stroke="#1f2b35" stroke-width="0.8" stroke-linejoin="round" />
<polygon points="223.0,560.0 229.0,557.0 233.0,557.5 228.0,562.0 228.0,567.5 223.0,566.0" fill="#7e99ab" stroke="#1f2b35" stroke-width="0.6" stroke-linejoin="round" />
<ellipse cx="237.6" cy="563.8" rx="2.0" ry="2.4" fill="#fff" stroke="#1f2b35" stroke-width="0.8" transform="rotate(0 237.6 563.8)"/>
<polygon points="223.0,591.0 229.0,588.0 240.0,589.0 242.7,592.0 242.7,599.0 239.5,601.2 232.0,600.5 223.0,597.0" fill="#a3bac4" stroke="#1f2b35" stroke-width="0.8" stroke-linejoin="round" />
<polygon points="223.0,591.0 229.0,588.0 233.0,588.5 228.0,593.0 228.0,598.5 223.0,597.0" fill="#7e99ab" stroke="#1f2b35" stroke-width="0.6" stroke-linejoin="round" />
<ellipse cx="237.6" cy="594.8" rx="2.0" ry="2.4" fill="#fff" stroke="#1f2b35" stroke-width="0.8" transform="rotate(0 237.6 594.8)"/>
<polyline points="186.8,579.5 200.7,616.6 173.0,599.0" fill="none" stroke="#cfdbdc" stroke-width="1.1" stroke-linejoin="round" stroke-linecap="round" />
<line x1="186.8" y1="579.5" x2="217.0" y2="594.0" stroke="#cfdbdc" stroke-width="1.1" />
<polygon points="164.8,570.0 176.3,612.0 185.6,658.3 188.0,676.8 180.0,677.5 174.7,642.5 166.0,616.0 159.4,592.0 164.9,580.2" fill="#587287" stroke="#1f2b35" stroke-width="0.8" stroke-linejoin="round" />
<defs><linearGradient id="g29" gradientUnits="userSpaceOnUse" x1="75" y1="600" x2="175" y2="640"><stop offset="0" stop-color="#86a0b0"/><stop offset="0.35" stop-color="#6c899e"/><stop offset="1" stop-color="#587489"/></linearGradient></defs>
<path d="M58.8,575.8 L77.4,590 Q80,602 85,612 Q92,627 100.3,638.2 Q110,648 120,653.5 L133.2,664.4 Q140,669 146.3,671 Q165,679 180,677.5 L174.7,642.5 L166,616 L159.4,592 L164.9,580.2 L124.4,609.7 L115.6,609.7 Z" fill="url(#g29)" stroke="#1f2b35" stroke-width="0.9" stroke-linejoin="round" stroke-linecap="round" />
<path d="M133,664 Q150,676 168,678 L166,682 Q148,680 136,670 Z" fill="#587287" stroke="#1f2b35" stroke-width="0.8" stroke-linejoin="round" stroke-linecap="round" />
<polygon points="56.6,567.0 97.0,533.0 102.5,533.6 163.8,571.4 164.9,580.2 124.4,609.7 115.6,609.7 58.8,575.8" fill="#7e99ab" stroke="#1f2b35" stroke-width="0.9" stroke-linejoin="round" />
<defs><linearGradient id="g30" gradientUnits="userSpaceOnUse" x1="100" y1="540" x2="150" y2="590"><stop offset="0" stop-color="#8ba5b4"/><stop offset="1" stop-color="#658195"/></linearGradient></defs>
<polygon points="62.0,569.2 98.1,538.6 158.3,574.7 122.2,604.2" fill="url(#g30)" stroke="#1f2b35" stroke-width="0.8" stroke-linejoin="round" />
<defs><linearGradient id="g31" gradientUnits="userSpaceOnUse" x1="70" y1="560" x2="118" y2="590"><stop offset="0" stop-color="#a9bfc9"/><stop offset="0.5" stop-color="#e3ebe7"/><stop offset="1" stop-color="#9fb6c1"/></linearGradient></defs>
<polygon points="62.0,569.2 98.1,538.6 106.0,566.0 116.0,601.0" fill="url(#g31)" stroke="#1f2b35" stroke-width="0.7" stroke-linejoin="round" />
<polyline points="59.0,569.0 97.5,536.0 161.0,573.0 123.5,607.0 60.0,571.5" fill="none" stroke="#2d3e4c" stroke-width="0.6" stroke-linejoin="round" stroke-linecap="round" />
<polygon points="114.5,549.0 121.0,552.8 121.0,556.0 114.5,552.2" fill="#b4c8ce" stroke="#1f2b35" stroke-width="0.6" stroke-linejoin="round" />
<polygon points="138.0,563.0 144.5,566.8 144.5,570.0 138.0,566.2" fill="#b4c8ce" stroke="#1f2b35" stroke-width="0.6" stroke-linejoin="round" />
<line x1="104.0" y1="546.0" x2="154.0" y2="576.0" stroke="#1f2b35" stroke-width="0.6" />
<polygon points="153.5,591.0 158.0,588.0 160.5,589.5 160.5,592.5 156.0,595.5 153.5,594.0" fill="#b4c8ce" stroke="#1f2b35" stroke-width="0.7" stroke-linejoin="round" />
<polygon points="170.5,633.0 175.0,630.0 177.5,631.5 177.5,634.5 173.0,637.5 170.5,636.0" fill="#b4c8ce" stroke="#1f2b35" stroke-width="0.7" stroke-linejoin="round" />
<polygon points="182.5,671.0 187.0,668.0 189.5,669.5 189.5,672.5 185.0,675.5 182.5,674.0" fill="#b4c8ce" stroke="#1f2b35" stroke-width="0.7" stroke-linejoin="round" />
<line x1="174.0" y1="597.0" x2="196.0" y2="616.0" stroke="#cfdbdc" stroke-width="1.1" />
<polygon points="150.7,680.0 160.0,678.5 166.0,684.0 162.0,689.0 158.0,689.0 157.5,693.0 155.5,693.0 154.5,688.0 151.0,686.0" fill="#587287" stroke="#1f2b35" stroke-width="0.9" stroke-linejoin="round" />
<line x1="157.5" y1="694.0" x2="157.5" y2="728.0" stroke="#5a656b" stroke-width="0.7" stroke-dasharray="7 2 1.5 2"/>
<polygon points="134.0,682.0 137.0,680.0 143.0,680.5 145.5,683.0 144.5,687.0 143.5,701.0 140.5,702.5 137.5,701.0 136.0,687.0" fill="#7590a3" stroke="#1f2b35" stroke-width="0.9" stroke-linejoin="round" />
<ellipse cx="139.8" cy="682.5" rx="5.2" ry="2.4" fill="#93adbb" stroke="#1f2b35" stroke-width="0.9" transform="rotate(0 139.8 682.5)"/>
<line x1="139.5" y1="688.0" x2="139.5" y2="701.0" stroke="#1f2b35" stroke-width="0.7" />
<text x="111.5" y="692.0" text-anchor="middle" font-size="12.4">21</text>
<line x1="120.0" y1="688.5" x2="133.3" y2="688.5" stroke="#222" stroke-width="1.0" />
<text x="203.0" y="497.5" text-anchor="middle" font-size="12.4">28</text>
<line x1="203.5" y1="501.5" x2="203.5" y2="515.0" stroke="#666" stroke-width="1.0" />
<ellipse cx="202.5" cy="520.5" rx="4.0" ry="3.8" fill="#2f4252" stroke="#1f2b35" stroke-width="1.0" transform="rotate(0 202.5 520.5)"/>
<ellipse cx="202.3" cy="520.1" rx="2.2" ry="2.0" fill="#c9d7d8" stroke="#1f2b35" stroke-width="0.7" transform="rotate(0 202.3 520.1)"/>
<ellipse cx="202.3" cy="520.1" rx="0.9" ry="0.8" fill="#567186" stroke="#1f2b35" stroke-width="0.3" transform="rotate(0 202.3 520.1)"/>
<line x1="207.0" y1="518.5" x2="215.5" y2="515.0" stroke="#5a656b" stroke-width="0.7" stroke-dasharray="7 2 1.5 2"/>
<line x1="215.5" y1="515.0" x2="215.5" y2="560.0" stroke="#5a656b" stroke-width="0.7" stroke-dasharray="7 2 1.5 2"/>
<path d="M225.7,500.7 Q225.7,497.7 228.2,496.0 L229.2,495.4 Q231.7,493.7 234.3,495.2 L276.4,518.8 Q279.0,520.3 280.7,522.8 L281.3,523.8 Q283.0,526.3 282.9,529.3 L282.4,562.0 Q282.3,565.0 279.9,566.8 L279.4,567.2 Q277.0,569.0 274.4,567.5 L232.3,543.8 Q229.7,542.3 227.9,539.9 L227.5,539.4 Q225.7,537.0 225.7,534.0 Z" fill="#8fa9b6" stroke="#1f2b35" stroke-width="0.9" stroke-linejoin="round" stroke-linecap="round" />
<path d="M228.7,499.9 Q228.7,497.5 230.8,498.6 L277.9,522.4 Q280.0,523.5 280.0,525.9 L279.3,563.1 Q279.3,565.5 277.2,564.4 L230.8,540.6 Q228.7,539.5 228.7,537.1 Z" fill="none" stroke="#c9d7d8" stroke-width="1.3" stroke-linejoin="round" stroke-linecap="round" />
<path d="M231.7,502.8 Q231.7,501.0 233.3,501.9 L275.4,524.8 Q277.0,525.7 277.0,527.5 L276.3,559.7 Q276.3,561.5 274.7,560.6 L233.3,537.4 Q231.7,536.5 231.7,534.7 Z" fill="#fff" stroke="#1f2b35" stroke-width="0.8" stroke-linejoin="round" stroke-linecap="round" />
<text x="310.0" y="544.3" text-anchor="middle" font-size="12.4">19</text>
<line x1="289.0" y1="540.5" x2="302.5" y2="540.5" stroke="#222" stroke-width="1.0" />
<text x="340.0" y="557.3" text-anchor="middle" font-size="12.4">18</text>
<polyline points="317.5,527.0 325.0,533.0 326.5,536.0 326.5,549.5 332.0,553.5 326.5,557.5 326.5,576.0 317.5,585.5" fill="none" stroke="#333" stroke-width="0.8" stroke-linejoin="round" stroke-linecap="round" />
<line x1="238.0" y1="575.5" x2="322.0" y2="575.5" stroke="#333" stroke-width="0.8" />
<line x1="243.0" y1="603.0" x2="268.0" y2="626.0" stroke="#5a656b" stroke-width="0.7" stroke-dasharray="7 2 1.5 2"/>
<line x1="370.0" y1="563.0" x2="268.0" y2="622.0" stroke="#5a656b" stroke-width="0.7" stroke-dasharray="7 2 1.5 2"/>
<line x1="340.0" y1="580.7" x2="382.7" y2="556.7" stroke="#5a656b" stroke-width="0.7" stroke-dasharray="7 2 1.5 2"/>
<line x1="382.7" y1="556.7" x2="408.0" y2="638.0" stroke="#5a656b" stroke-width="0.7" stroke-dasharray="7 2 1.5 2"/>
<line x1="408.0" y1="638.0" x2="438.7" y2="622.0" stroke="#5a656b" stroke-width="0.7" stroke-dasharray="7 2 1.5 2"/>
<line x1="438.7" y1="622.0" x2="437.0" y2="612.7" stroke="#5a656b" stroke-width="0.7" stroke-dasharray="7 2 1.5 2"/>
<polygon points="380.0,504.7 388.0,496.7 442.7,524.7 437.3,532.7" fill="#c6d5d7" stroke="#1f2b35" stroke-width="0.9" stroke-linejoin="round" />
<defs><linearGradient id="g32" gradientUnits="userSpaceOnUse" x1="440" y1="530" x2="470" y2="620"><stop offset="0" stop-color="#7893a5"/><stop offset="1" stop-color="#4f6a80"/></linearGradient></defs>
<polygon points="437.3,532.7 442.7,524.7 473.3,614.0 465.3,622.0" fill="url(#g32)" stroke="#1f2b35" stroke-width="0.9" stroke-linejoin="round" />
<polygon points="380.0,504.7 437.3,532.7 465.3,622.0 408.0,591.3" fill="#93adbb" stroke="#1f2b35" stroke-width="0.9" stroke-linejoin="round" />
<defs><pattern id="mesh" width="2" height="2" patternUnits="userSpaceOnUse"><rect width="2" height="2" fill="#8497a1"/><rect width="1.1" height="1.1" fill="#344656"/></pattern></defs>
<polygon points="384.5,510.0 435.0,535.0 460.5,616.0 410.0,589.0" fill="url(#mesh)" stroke="#1f2b35" stroke-width="0.6" stroke-linejoin="round" />
<defs><linearGradient id="g33" gradientUnits="userSpaceOnUse" x1="220" y1="690" x2="320" y2="720"><stop offset="0" stop-color="#7d98aa"/><stop offset="0.5" stop-color="#69859a"/><stop offset="1" stop-color="#5a768a"/></linearGradient></defs>
<polygon points="213.9,657.0 246.2,630.0 265.2,623.7 284.2,620.6 309.5,617.4 330.0,614.2 338.0,616.5 379.2,639.6 382.3,647.5 380.7,676.0 369.7,691.8 363.3,717.2 352.2,745.7 338.0,761.5 319.0,771.0 300.0,764.7 274.7,758.3 270.0,752.0 251.0,733.0 236.7,707.7 222.4,682.3 216.0,666.5" fill="url(#g33)" stroke="#1f2b35" stroke-width="0.9" stroke-linejoin="round" />
<defs><linearGradient id="g34" gradientUnits="userSpaceOnUse" x1="320" y1="660" x2="380" y2="720"><stop offset="0" stop-color="#557083"/><stop offset="1" stop-color="#415a6f"/></linearGradient></defs>
<path d="M311,660 Q320,654 331.7,652.2 Q345,648.5 357,647.5 L382.3,647.5 L380.7,676 L369.7,691.8 L363.3,717.2 L352.2,745.7 L338,761.5 L331.7,748.8 L327,720.3 L315.8,704.5 L311,674.4 Z" fill="url(#g34)" stroke="#1f2b35" stroke-width="0.8" stroke-linejoin="round" stroke-linecap="round" />
<defs><linearGradient id="g35" gradientUnits="userSpaceOnUse" x1="280" y1="620" x2="350" y2="660"><stop offset="0" stop-color="#a3bac4"/><stop offset="0.5" stop-color="#cddadb"/><stop offset="1" stop-color="#8ea8b6"/></linearGradient></defs>
<path d="M265.2,623.7 L284.2,620.6 L309.5,617.4 L330,614.2 L338,616.5 L379.2,639.6 L382.3,647.5 L357,647.5 Q345,648.5 331.7,652.2 Q320,654 311,660 L309.5,665 L262,634 Z" fill="url(#g35)" stroke="#1f2b35" stroke-width="0.8" stroke-linejoin="round" stroke-linecap="round" />
<polygon points="308.0,630.0 320.0,626.0 334.0,633.0 322.0,637.0" fill="#e6ede8" stroke="#1f2b35" stroke-width="0.6" stroke-linejoin="round" />
<polyline points="284.2,620.6 300.0,640.0 309.5,665.0" fill="none" stroke="#1f2b35" stroke-width="0.6" stroke-linejoin="round" stroke-linecap="round" />
<polygon points="309.5,665.0 311.0,674.4 315.8,704.5 327.0,720.3 331.7,748.8 338.0,761.5 319.0,771.0 314.0,745.0 305.0,715.0 300.0,690.0" fill="#587287" stroke="#1f2b35" stroke-width="0.8" stroke-linejoin="round" />
<polygon points="318.0,722.0 323.5,719.0 327.5,721.5 327.5,726.5 322.0,729.5 318.0,727.0" fill="#93adbb" stroke="#1f2b35" stroke-width="0.7" stroke-linejoin="round" />
<polygon points="213.9,657.0 246.2,630.0 309.5,665.0 311.0,674.4 277.8,691.8 273.0,691.8 216.0,662.0" fill="#9fb6bf" stroke="#1f2b35" stroke-width="0.8" stroke-linejoin="round" />
<polygon points="218.5,657.5 247.0,634.0 306.5,667.0 276.5,688.0" fill="#a5b8bd" stroke="#1f2b35" stroke-width="0.8" stroke-linejoin="round" />
<polygon points="218.5,657.5 247.0,634.0 251.0,647.0 246.0,673.0 240.0,670.5" fill="#6b8998" stroke="#1f2b35" stroke-width="0.6" stroke-linejoin="round" />
<polygon points="247.7,633.0 266.0,631.5 281.5,684.0 268.0,688.5 255.0,652.0" fill="#e9efe9" stroke="#1f2b35" stroke-width="0.7" stroke-linejoin="round" />
<polygon points="266.0,631.5 272.0,629.5 296.0,660.0 281.5,684.0" fill="#c3d1d1" stroke="#1f2b35" stroke-width="0.6" stroke-linejoin="round" />
<polygon points="251.0,668.0 258.0,665.0 262.0,674.0 268.0,688.5 262.0,683.0" fill="#3e5463" stroke="#1f2b35" stroke-width="0.6" stroke-linejoin="round" />
<polyline points="216.0,660.0 246.5,632.5 308.0,667.0 276.0,690.0 216.0,660.0" fill="none" stroke="#2d3e4c" stroke-width="0.6" stroke-linejoin="round" stroke-linecap="round" />
<polygon points="296.0,655.0 300.0,652.5 306.0,656.0 309.0,663.0 305.0,665.5" fill="#b9cbcf" stroke="#1f2b35" stroke-width="0.6" stroke-linejoin="round" />
<polyline points="243.0,673.0 252.0,700.0 268.0,742.0 274.7,758.3" fill="none" stroke="#1f2b35" stroke-width="0.7" stroke-linejoin="round" stroke-linecap="round" />
<polyline points="277.8,691.8 290.0,730.0 300.0,764.7" fill="none" stroke="#1f2b35" stroke-width="0.7" stroke-linejoin="round" stroke-linecap="round" />
<line x1="321.5" y1="687.0" x2="366.8" y2="712.0" stroke="#d5e0df" stroke-width="1.3" />
<ellipse cx="371.6" cy="715.0" rx="4.2" ry="5.8" fill="#93adbb" stroke="#1f2b35" stroke-width="1.0" transform="rotate(25 371.6 715.0)"/>
<ellipse cx="371.6" cy="715.0" rx="1.9" ry="3.0" fill="#fff" stroke="#1f2b35" stroke-width="0.8" transform="rotate(25 371.6 715.0)"/>
<text x="406.0" y="662.5" text-anchor="middle" font-size="12.4">25</text>
<line x1="383.5" y1="659.5" x2="398.0" y2="659.5" stroke="#222" stroke-width="1.0" />
<text x="403.0" y="715.0" text-anchor="middle" font-size="12.4">27</text>
<line x1="381.5" y1="712.5" x2="394.5" y2="712.5" stroke="#222" stroke-width="1.0" />
<polygon points="150.7,726.7 160.0,725.3 168.0,730.7 160.0,736.0 156.0,754.7 150.7,761.3 137.3,761.3 134.7,756.0 144.0,750.7 146.7,733.3" fill="#7590a3" stroke="#1f2b35" stroke-width="0.9" stroke-linejoin="round" />
<polygon points="150.7,726.7 160.0,725.3 168.0,730.7 160.0,736.0 150.0,734.0" fill="#93adbb" stroke="#1f2b35" stroke-width="0.7" stroke-linejoin="round" />
<ellipse cx="158.0" cy="730.5" rx="2.2" ry="1.4" fill="#fff" stroke="#1f2b35" stroke-width="0.6" transform="rotate(0 158.0 730.5)"/>
<polygon points="134.7,756.0 144.0,750.7 154.0,752.0 156.0,754.7 150.7,761.3 137.3,761.3" fill="#93adbb" stroke="#1f2b35" stroke-width="0.7" stroke-linejoin="round" />
<text x="182.7" y="749.8" text-anchor="middle" font-size="12.4">26</text>
<line x1="160.0" y1="746.5" x2="174.7" y2="746.5" stroke="#222" stroke-width="1.0" />
<text x="105.3" y="736.5" text-anchor="middle" font-size="12.4">28</text>
<line x1="116.0" y1="733.5" x2="130.7" y2="733.5" stroke="#222" stroke-width="1.0" />
<ellipse cx="135.2" cy="734.7" rx="4.0" ry="3.8" fill="#2f4252" stroke="#1f2b35" stroke-width="1.0" transform="rotate(0 135.2 734.7)"/>
<ellipse cx="135.0" cy="734.3" rx="2.2" ry="2.0" fill="#c9d7d8" stroke="#1f2b35" stroke-width="0.7" transform="rotate(0 135.0 734.3)"/>
<ellipse cx="135.0" cy="734.3" rx="0.9" ry="0.8" fill="#567186" stroke="#1f2b35" stroke-width="0.3" transform="rotate(0 135.0 734.3)"/>
<line x1="137.0" y1="741.0" x2="146.0" y2="747.0" stroke="#5a656b" stroke-width="0.7" stroke-dasharray="7 2 1.5 2"/>
</svg>
</body></html>
